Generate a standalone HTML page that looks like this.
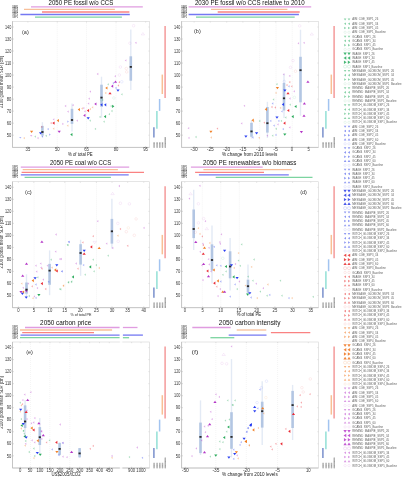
<!DOCTYPE html>
<html><head><meta charset="utf-8"><style>
html,body{margin:0;padding:0;background:#fff;}
body{width:402px;height:477px;overflow:hidden;}
svg{display:block;font-family:"Liberation Sans", sans-serif;will-change:transform;}
text{opacity:0.999;}
</style></head><body>
<svg width="402" height="477" viewBox="0 0 402 477">
<rect width="402" height="477" fill="#fff"/>
<text x="48.60" y="4.75" font-size="6.3" fill="#111" text-anchor="start" textLength="64.70" lengthAdjust="spacingAndGlyphs" >2050 PE fossil w/o CCS</text>
<line x1="31" y1="6.9" x2="142.8" y2="6.9" stroke="#e09ce0" stroke-width="1.3"/>
<line x1="24" y1="9.4" x2="114.9" y2="9.4" stroke="#f8c09a" stroke-width="1.3"/>
<line x1="42" y1="12.0" x2="129.4" y2="12.0" stroke="#fa8282" stroke-width="1.3"/>
<line x1="20.4" y1="14.5" x2="129.8" y2="14.5" stroke="#7478f2" stroke-width="1.3"/>
<line x1="35" y1="17.1" x2="121.9" y2="17.1" stroke="#7cd4a0" stroke-width="1.3"/>
<text x="12.20" y="7.85" font-size="2.8" fill="#222" text-anchor="start" textLength="5.80" lengthAdjust="spacingAndGlyphs" >SSP5</text>
<text x="12.20" y="10.35" font-size="2.8" fill="#222" text-anchor="start" textLength="5.80" lengthAdjust="spacingAndGlyphs" >SSP4</text>
<text x="12.20" y="12.95" font-size="2.8" fill="#222" text-anchor="start" textLength="5.80" lengthAdjust="spacingAndGlyphs" >SSP3</text>
<text x="12.20" y="15.45" font-size="2.8" fill="#222" text-anchor="start" textLength="5.80" lengthAdjust="spacingAndGlyphs" >SSP2</text>
<text x="12.20" y="18.05" font-size="2.8" fill="#222" text-anchor="start" textLength="5.80" lengthAdjust="spacingAndGlyphs" >SSP1</text>
<line x1="57.3" y1="21.4" x2="57.3" y2="147.4" stroke="#e2e2e2" stroke-width="0.45" stroke-dasharray="0.8,1.2"/>
<line x1="86.5" y1="21.4" x2="86.5" y2="147.4" stroke="#e2e2e2" stroke-width="0.45" stroke-dasharray="0.8,1.2"/>
<line x1="116.0" y1="21.4" x2="116.0" y2="147.4" stroke="#e2e2e2" stroke-width="0.45" stroke-dasharray="0.8,1.2"/>
<rect x="12.5" y="21.4" width="137.0" height="126.0" fill="none" stroke="#d4d4d4" stroke-width="0.6"/>
<line x1="12.5" y1="21.4" x2="12.5" y2="147.4" stroke="#bdbdbd" stroke-width="0.8"/>
<line x1="12.5" y1="147.4" x2="149.5" y2="147.4" stroke="#bdbdbd" stroke-width="0.8"/>
<line x1="42.4" y1="122.2" x2="42.4" y2="137.4" stroke="#e3eaf5" stroke-width="1.4"/>
<rect x="41.10" y="125.9" width="2.6" height="9.70" fill="#b3c6e3"/>
<line x1="72.0" y1="103.4" x2="72.0" y2="131.4" stroke="#e3eaf5" stroke-width="1.4"/>
<rect x="70.70" y="108.8" width="2.6" height="15.10" fill="#b3c6e3"/>
<line x1="101.5" y1="76.7" x2="101.5" y2="117.7" stroke="#e3eaf5" stroke-width="1.4"/>
<rect x="100.20" y="84.7" width="2.6" height="22.00" fill="#b3c6e3"/>
<line x1="130.8" y1="29.4" x2="130.8" y2="90.0" stroke="#e3eaf5" stroke-width="1.4"/>
<rect x="129.50" y="56.3" width="2.6" height="24.40" fill="#b3c6e3"/>
<polygon points="19.15,136.91 21.45,136.91 20.30,138.52" fill="#1f35f0" opacity="0.38"/>
<polygon points="24.79,136.95 24.79,139.25 23.18,138.10" fill="#f07a1c" opacity="0.38"/>
<polygon points="30.00,130.64 33.20,130.64 31.60,132.88" fill="#f07a1c" opacity="0.95"/>
<polygon points="30.05,135.11 32.35,135.11 31.20,136.72" fill="#b02cc4" opacity="0.38"/>
<polygon points="35.89,135.45 35.89,137.75 34.28,136.60" fill="#1fa653" opacity="0.38"/>
<polygon points="38.59,136.95 38.59,139.25 36.98,138.10" fill="#b02cc4" opacity="0.38"/>
<polygon points="42.29,125.75 42.29,128.05 40.68,126.90" fill="#e8202a" opacity="0.38"/>
<polygon points="39.00,132.14 42.20,132.14 40.60,134.38" fill="#1f35f0" opacity="0.95"/>
<polygon points="43.09,135.45 43.09,137.75 41.48,136.60" fill="#1f35f0" opacity="0.38"/>
<polygon points="48.69,127.95 48.69,130.25 47.08,129.10" fill="#1f35f0" opacity="0.38"/>
<polygon points="46.79,134.65 46.79,136.95 45.18,135.80" fill="#1fa653" opacity="0.38"/>
<polygon points="49.11,133.45 49.11,135.75 50.72,134.60" fill="#1f35f0" opacity="0.38"/>
<polygon points="54.56,121.50 54.56,124.70 52.32,123.10" fill="#e8202a" opacity="0.95"/>
<polygon points="51.69,121.95 51.69,124.25 50.08,123.10" fill="#e8202a" opacity="0.38"/>
<polygon points="54.29,118.25 54.29,120.55 52.68,119.40" fill="#b02cc4" opacity="0.38"/>
<polygon points="54.29,127.55 54.29,129.85 52.68,128.70" fill="#f07a1c" opacity="0.38"/>
<polygon points="58.96,119.00 58.96,122.20 56.72,120.60" fill="#f07a1c" opacity="0.95"/>
<polygon points="57.60,130.64 60.80,130.64 59.20,132.88" fill="#b02cc4" opacity="0.95"/>
<polygon points="62.31,122.75 62.31,125.05 63.92,123.90" fill="#b02cc4" opacity="0.38"/>
<polygon points="66.19,104.85 66.19,107.15 64.58,106.00" fill="#b02cc4" opacity="0.38"/>
<polygon points="68.69,110.45 68.69,112.75 67.08,111.60" fill="#b02cc4" opacity="0.38"/>
<polygon points="67.31,120.45 67.31,122.75 68.92,121.60" fill="#1f35f0" opacity="0.38"/>
<polygon points="68.39,124.55 68.39,126.85 66.78,125.70" fill="#f07a1c" opacity="0.38"/>
<polygon points="72.46,133.00 72.46,136.20 70.22,134.60" fill="#1fa653" opacity="0.95"/>
<polygon points="73.69,104.05 73.69,106.35 72.08,105.20" fill="#b02cc4" opacity="0.38"/>
<polygon points="77.89,119.55 77.89,121.85 76.28,120.70" fill="#b02cc4" opacity="0.38"/>
<polygon points="79.96,108.00 79.96,111.20 77.72,109.60" fill="#f07a1c" opacity="0.95"/>
<polygon points="82.79,107.35 82.79,109.65 81.18,108.50" fill="#f07a1c" opacity="0.38"/>
<polygon points="84.29,106.95 84.29,109.25 82.68,108.10" fill="#b02cc4" opacity="0.38"/>
<polygon points="85.59,110.15 85.59,112.45 83.98,111.30" fill="#b02cc4" opacity="0.38"/>
<polygon points="85.46,113.80 85.46,117.00 83.22,115.40" fill="#b02cc4" opacity="0.95"/>
<polygon points="89.06,109.00 89.06,112.20 86.82,110.60" fill="#e8202a" opacity="0.95"/>
<polygon points="90.99,107.95 90.99,110.25 89.38,109.10" fill="#f07a1c" opacity="0.38"/>
<polygon points="93.19,106.15 93.19,108.45 91.58,107.30" fill="#f07a1c" opacity="0.38"/>
<polygon points="89.19,102.45 89.19,104.75 87.58,103.60" fill="#b02cc4" opacity="0.38"/>
<polygon points="86.60,117.14 89.80,117.14 88.20,119.38" fill="#1f35f0" opacity="0.95"/>
<polygon points="90.79,119.55 90.79,121.85 89.18,120.70" fill="#1fa653" opacity="0.38"/>
<polygon points="96.09,127.75 96.09,130.05 94.48,128.90" fill="#1fa653" opacity="0.38"/>
<polygon points="96.46,102.40 96.46,105.60 94.22,104.00" fill="#b02cc4" opacity="0.95"/>
<polygon points="89.79,97.55 89.79,99.85 88.18,98.70" fill="#b02cc4" opacity="0.38"/>
<polygon points="90.99,90.45 90.99,92.75 89.38,91.60" fill="#b02cc4" opacity="0.38"/>
<polygon points="98.29,72.85 98.29,75.15 96.68,74.00" fill="#b02cc4" opacity="0.38"/>
<circle cx="101.50" cy="99.90" r="1.3" fill="none" stroke="#1fa653" stroke-width="0.4" opacity="0.2"/>
<polygon points="102.46,103.20 102.46,106.40 100.22,104.80" fill="#1f35f0" opacity="0.95"/>
<polygon points="106.26,103.20 106.26,106.40 104.02,104.80" fill="#1f35f0" opacity="0.95"/>
<polygon points="107.46,86.40 107.46,89.60 105.22,88.00" fill="#f07a1c" opacity="0.95"/>
<polygon points="106.29,91.85 106.29,94.15 104.68,93.00" fill="#f07a1c" opacity="0.38"/>
<polygon points="108.79,83.15 108.79,85.45 107.18,84.30" fill="#1fa653" opacity="0.38"/>
<polygon points="108.40,94.36 111.60,94.36 110.00,92.12" fill="#e8202a" opacity="0.95"/>
<polygon points="113.16,84.60 113.16,87.80 110.92,86.20" fill="#b02cc4" opacity="0.95"/>
<polygon points="113.90,82.76 117.10,82.76 115.50,80.52" fill="#b02cc4" opacity="0.95"/>
<polygon points="114.09,81.95 114.09,84.25 112.48,83.10" fill="#1f35f0" opacity="0.38"/>
<polygon points="116.59,86.85 116.59,89.15 114.98,88.00" fill="#1f35f0" opacity="0.38"/>
<polygon points="119.09,84.35 119.09,86.65 117.48,85.50" fill="#e8202a" opacity="0.38"/>
<polygon points="119.99,81.05 119.99,83.35 118.38,82.20" fill="#e8202a" opacity="0.38"/>
<circle cx="121.80" cy="81.80" r="1.3" fill="none" stroke="#1f35f0" stroke-width="0.4" opacity="0.2"/>
<polygon points="116.40,89.54 119.60,89.54 118.00,91.78" fill="#1f35f0" opacity="0.95"/>
<polygon points="115.89,75.05 115.89,77.35 114.28,76.20" fill="#b02cc4" opacity="0.38"/>
<circle cx="119.30" cy="75.00" r="1.3" fill="none" stroke="#b02cc4" stroke-width="0.4" opacity="0.2"/>
<circle cx="113.90" cy="98.00" r="1.3" fill="none" stroke="#1fa653" stroke-width="0.4" opacity="0.2"/>
<polygon points="122.49,93.15 122.49,95.45 120.88,94.30" fill="#1fa653" opacity="0.38"/>
<polygon points="112.14,104.70 112.14,107.90 114.38,106.30" fill="#1fa653" opacity="0.95"/>
<polygon points="111.69,104.95 111.69,107.25 110.08,106.10" fill="#1fa653" opacity="0.38"/>
<polygon points="112.49,109.85 112.49,112.15 110.88,111.00" fill="#1fa653" opacity="0.38"/>
<polygon points="109.99,113.05 109.99,115.35 108.38,114.20" fill="#1fa653" opacity="0.38"/>
<polygon points="103.19,98.75 103.19,101.05 101.58,99.90" fill="#1fa653" opacity="0.38"/>
<polygon points="100.59,115.75 100.59,118.05 98.98,116.90" fill="#1fa653" opacity="0.38"/>
<polygon points="106.06,115.00 106.06,118.20 103.82,116.60" fill="#1fa653" opacity="0.95"/>
<polygon points="104.69,120.55 104.69,122.85 103.08,121.70" fill="#1fa653" opacity="0.38"/>
<circle cx="126.70" cy="71.90" r="1.3" fill="none" stroke="#e8202a" stroke-width="0.4" opacity="0.2"/>
<circle cx="120.40" cy="67.00" r="1.3" fill="none" stroke="#b02cc4" stroke-width="0.4" opacity="0.2"/>
<polygon points="126.39,59.25 126.39,61.55 124.78,60.40" fill="#b02cc4" opacity="0.38"/>
<circle cx="129.90" cy="43.20" r="1.3" fill="none" stroke="#b02cc4" stroke-width="0.4" opacity="0.2"/>
<polygon points="136.49,41.65 136.49,43.95 134.88,42.80" fill="#b02cc4" opacity="0.38"/>
<circle cx="133.60" cy="25.70" r="1.3" fill="none" stroke="#b02cc4" stroke-width="0.4" opacity="0.2"/>
<polygon points="141.20,34.92 144.60,34.92 142.90,32.54" fill="none" stroke="#b02cc4" stroke-width="0.4" opacity="0.22"/>
<circle cx="126.30" cy="68.50" r="1.3" fill="none" stroke="#e8202a" stroke-width="0.4" opacity="0.2"/>
<rect x="41.30" y="131.10" width="2.2" height="1.8" fill="#2a2a2a"/>
<rect x="70.90" y="119.10" width="2.2" height="1.8" fill="#2a2a2a"/>
<rect x="100.40" y="96.70" width="2.2" height="1.8" fill="#2a2a2a"/>
<rect x="129.70" y="66.00" width="2.2" height="1.8" fill="#2a2a2a"/>
<text x="11.30" y="136.90" font-size="4.7" fill="#383838" text-anchor="end" textLength="4.60" lengthAdjust="spacingAndGlyphs" >50</text>
<line x1="12.5" y1="135.20" x2="13.7" y2="135.20" stroke="#aaa" stroke-width="0.5"/>
<line x1="148.3" y1="135.20" x2="149.5" y2="135.20" stroke="#ccc" stroke-width="0.5"/>
<text x="11.30" y="124.88" font-size="4.7" fill="#383838" text-anchor="end" textLength="4.60" lengthAdjust="spacingAndGlyphs" >60</text>
<line x1="12.5" y1="123.18" x2="13.7" y2="123.18" stroke="#aaa" stroke-width="0.5"/>
<line x1="148.3" y1="123.18" x2="149.5" y2="123.18" stroke="#ccc" stroke-width="0.5"/>
<text x="11.30" y="112.85" font-size="4.7" fill="#383838" text-anchor="end" textLength="4.60" lengthAdjust="spacingAndGlyphs" >70</text>
<line x1="12.5" y1="111.15" x2="13.7" y2="111.15" stroke="#aaa" stroke-width="0.5"/>
<line x1="148.3" y1="111.15" x2="149.5" y2="111.15" stroke="#ccc" stroke-width="0.5"/>
<text x="11.30" y="100.83" font-size="4.7" fill="#383838" text-anchor="end" textLength="4.60" lengthAdjust="spacingAndGlyphs" >80</text>
<line x1="12.5" y1="99.13" x2="13.7" y2="99.13" stroke="#aaa" stroke-width="0.5"/>
<line x1="148.3" y1="99.13" x2="149.5" y2="99.13" stroke="#ccc" stroke-width="0.5"/>
<text x="11.30" y="88.81" font-size="4.7" fill="#383838" text-anchor="end" textLength="4.60" lengthAdjust="spacingAndGlyphs" >90</text>
<line x1="12.5" y1="87.11" x2="13.7" y2="87.11" stroke="#aaa" stroke-width="0.5"/>
<line x1="148.3" y1="87.11" x2="149.5" y2="87.11" stroke="#ccc" stroke-width="0.5"/>
<text x="11.30" y="76.79" font-size="4.7" fill="#383838" text-anchor="end" textLength="6.30" lengthAdjust="spacingAndGlyphs" >100</text>
<line x1="12.5" y1="75.09" x2="13.7" y2="75.09" stroke="#aaa" stroke-width="0.5"/>
<line x1="148.3" y1="75.09" x2="149.5" y2="75.09" stroke="#ccc" stroke-width="0.5"/>
<text x="11.30" y="64.77" font-size="4.7" fill="#383838" text-anchor="end" textLength="6.30" lengthAdjust="spacingAndGlyphs" >110</text>
<line x1="12.5" y1="63.07" x2="13.7" y2="63.07" stroke="#aaa" stroke-width="0.5"/>
<line x1="148.3" y1="63.07" x2="149.5" y2="63.07" stroke="#ccc" stroke-width="0.5"/>
<text x="11.30" y="52.74" font-size="4.7" fill="#383838" text-anchor="end" textLength="6.30" lengthAdjust="spacingAndGlyphs" >120</text>
<line x1="12.5" y1="51.04" x2="13.7" y2="51.04" stroke="#aaa" stroke-width="0.5"/>
<line x1="148.3" y1="51.04" x2="149.5" y2="51.04" stroke="#ccc" stroke-width="0.5"/>
<text x="11.30" y="40.72" font-size="4.7" fill="#383838" text-anchor="end" textLength="6.30" lengthAdjust="spacingAndGlyphs" >130</text>
<line x1="12.5" y1="39.02" x2="13.7" y2="39.02" stroke="#aaa" stroke-width="0.5"/>
<line x1="148.3" y1="39.02" x2="149.5" y2="39.02" stroke="#ccc" stroke-width="0.5"/>
<text x="11.30" y="28.70" font-size="4.7" fill="#383838" text-anchor="end" textLength="6.30" lengthAdjust="spacingAndGlyphs" >140</text>
<line x1="12.5" y1="27.00" x2="13.7" y2="27.00" stroke="#aaa" stroke-width="0.5"/>
<line x1="148.3" y1="27.00" x2="149.5" y2="27.00" stroke="#ccc" stroke-width="0.5"/>
<text x="27.90" y="151.40" font-size="4.6" fill="#383838" text-anchor="middle" textLength="4.70" lengthAdjust="spacingAndGlyphs" >35</text>
<line x1="27.9" y1="147.4" x2="27.9" y2="146.20000000000002" stroke="#aaa" stroke-width="0.5"/>
<line x1="27.9" y1="21.4" x2="27.9" y2="22.599999999999998" stroke="#ccc" stroke-width="0.5"/>
<text x="57.30" y="151.40" font-size="4.6" fill="#383838" text-anchor="middle" textLength="4.70" lengthAdjust="spacingAndGlyphs" >50</text>
<line x1="57.3" y1="147.4" x2="57.3" y2="146.20000000000002" stroke="#aaa" stroke-width="0.5"/>
<line x1="57.3" y1="21.4" x2="57.3" y2="22.599999999999998" stroke="#ccc" stroke-width="0.5"/>
<text x="86.50" y="151.40" font-size="4.6" fill="#383838" text-anchor="middle" textLength="4.70" lengthAdjust="spacingAndGlyphs" >65</text>
<line x1="86.5" y1="147.4" x2="86.5" y2="146.20000000000002" stroke="#aaa" stroke-width="0.5"/>
<line x1="86.5" y1="21.4" x2="86.5" y2="22.599999999999998" stroke="#ccc" stroke-width="0.5"/>
<text x="116.00" y="151.40" font-size="4.6" fill="#383838" text-anchor="middle" textLength="4.70" lengthAdjust="spacingAndGlyphs" >80</text>
<line x1="116" y1="147.4" x2="116" y2="146.20000000000002" stroke="#aaa" stroke-width="0.5"/>
<line x1="116" y1="21.4" x2="116" y2="22.599999999999998" stroke="#ccc" stroke-width="0.5"/>
<text x="145.60" y="151.40" font-size="4.6" fill="#383838" text-anchor="middle" textLength="4.70" lengthAdjust="spacingAndGlyphs" >95</text>
<line x1="145.6" y1="147.4" x2="145.6" y2="146.20000000000002" stroke="#aaa" stroke-width="0.5"/>
<line x1="145.6" y1="21.4" x2="145.6" y2="22.599999999999998" stroke="#ccc" stroke-width="0.5"/>
<text x="68.00" y="156.00" font-size="5.0" fill="#222" text-anchor="start" textLength="24.70" lengthAdjust="spacingAndGlyphs" >% of total PE</text>
<text x="0" y="0" font-size="47" fill="#333" text-anchor="middle" textLength="524" lengthAdjust="spacingAndGlyphs" transform="translate(3.3,81.90) rotate(-90) scale(0.1)">2100 global mean SLR [cm]</text>
<text x="22.00" y="33.50" font-size="5.0" fill="#333" text-anchor="start" textLength="6.80" lengthAdjust="spacingAndGlyphs" >(a)</text>
<line x1="153.90" y1="127.3" x2="153.90" y2="137.5" stroke="#7a90cc" stroke-width="1.5"/>
<line x1="156.90" y1="111.0" x2="156.90" y2="128.7" stroke="#92e0d6" stroke-width="1.5"/>
<line x1="159.60" y1="99.0" x2="159.60" y2="110.9" stroke="#a2c4f0" stroke-width="1.5"/>
<line x1="162.30" y1="74.6" x2="162.30" y2="94.0" stroke="#f8bf95" stroke-width="1.5"/>
<line x1="165.10" y1="26.0" x2="165.10" y2="98.0" stroke="#f49a9a" stroke-width="1.5"/>
<rect x="153.40" y="142.20" width="1.4" height="5.50" fill="#999"/>
<rect x="153.40" y="142.65" width="1.4" height="0.4" fill="#fff" opacity="0.6"/>
<rect x="153.40" y="143.95" width="1.4" height="0.4" fill="#fff" opacity="0.6"/>
<rect x="153.40" y="145.25" width="1.4" height="0.4" fill="#fff" opacity="0.6"/>
<rect x="153.40" y="146.55" width="1.4" height="0.4" fill="#fff" opacity="0.6"/>
<rect x="156.40" y="142.20" width="1.4" height="5.50" fill="#999"/>
<rect x="156.40" y="142.65" width="1.4" height="0.4" fill="#fff" opacity="0.6"/>
<rect x="156.40" y="143.95" width="1.4" height="0.4" fill="#fff" opacity="0.6"/>
<rect x="156.40" y="145.25" width="1.4" height="0.4" fill="#fff" opacity="0.6"/>
<rect x="156.40" y="146.55" width="1.4" height="0.4" fill="#fff" opacity="0.6"/>
<rect x="159.10" y="142.20" width="1.4" height="5.50" fill="#999"/>
<rect x="159.10" y="142.65" width="1.4" height="0.4" fill="#fff" opacity="0.6"/>
<rect x="159.10" y="143.95" width="1.4" height="0.4" fill="#fff" opacity="0.6"/>
<rect x="159.10" y="145.25" width="1.4" height="0.4" fill="#fff" opacity="0.6"/>
<rect x="159.10" y="146.55" width="1.4" height="0.4" fill="#fff" opacity="0.6"/>
<rect x="161.80" y="142.20" width="1.4" height="5.50" fill="#999"/>
<rect x="161.80" y="142.65" width="1.4" height="0.4" fill="#fff" opacity="0.6"/>
<rect x="161.80" y="143.95" width="1.4" height="0.4" fill="#fff" opacity="0.6"/>
<rect x="161.80" y="145.25" width="1.4" height="0.4" fill="#fff" opacity="0.6"/>
<rect x="161.80" y="146.55" width="1.4" height="0.4" fill="#fff" opacity="0.6"/>
<rect x="164.60" y="137.00" width="1.4" height="10.70" fill="#999"/>
<rect x="164.60" y="137.45" width="1.4" height="0.4" fill="#fff" opacity="0.6"/>
<rect x="164.60" y="138.75" width="1.4" height="0.4" fill="#fff" opacity="0.6"/>
<rect x="164.60" y="140.05" width="1.4" height="0.4" fill="#fff" opacity="0.6"/>
<rect x="164.60" y="141.35" width="1.4" height="0.4" fill="#fff" opacity="0.6"/>
<rect x="164.60" y="142.65" width="1.4" height="0.4" fill="#fff" opacity="0.6"/>
<rect x="164.60" y="143.95" width="1.4" height="0.4" fill="#fff" opacity="0.6"/>
<rect x="164.60" y="145.25" width="1.4" height="0.4" fill="#fff" opacity="0.6"/>
<rect x="164.60" y="146.55" width="1.4" height="0.4" fill="#fff" opacity="0.6"/>
<text x="194.90" y="4.75" font-size="6.3" fill="#111" text-anchor="start" textLength="109.80" lengthAdjust="spacingAndGlyphs" >2030 PE fossil w/o CCS relative to 2010</text>
<line x1="188.6" y1="6.9" x2="311.2" y2="6.9" stroke="#e09ce0" stroke-width="1.3"/>
<line x1="211" y1="9.4" x2="287.4" y2="9.4" stroke="#f8c09a" stroke-width="1.3"/>
<line x1="217.7" y1="12.0" x2="299.7" y2="12.0" stroke="#fa8282" stroke-width="1.3"/>
<line x1="188.6" y1="14.5" x2="298.9" y2="14.5" stroke="#7478f2" stroke-width="1.3"/>
<line x1="196" y1="17.1" x2="294.7" y2="17.1" stroke="#7cd4a0" stroke-width="1.3"/>
<text x="181.30" y="7.85" font-size="2.8" fill="#222" text-anchor="start" textLength="5.80" lengthAdjust="spacingAndGlyphs" >SSP5</text>
<text x="181.30" y="10.35" font-size="2.8" fill="#222" text-anchor="start" textLength="5.80" lengthAdjust="spacingAndGlyphs" >SSP4</text>
<text x="181.30" y="12.95" font-size="2.8" fill="#222" text-anchor="start" textLength="5.80" lengthAdjust="spacingAndGlyphs" >SSP3</text>
<text x="181.30" y="15.45" font-size="2.8" fill="#222" text-anchor="start" textLength="5.80" lengthAdjust="spacingAndGlyphs" >SSP2</text>
<text x="181.30" y="18.05" font-size="2.8" fill="#222" text-anchor="start" textLength="5.80" lengthAdjust="spacingAndGlyphs" >SSP1</text>
<line x1="259.6" y1="21.4" x2="259.6" y2="147.4" stroke="#e2e2e2" stroke-width="0.45" stroke-dasharray="0.8,1.2"/>
<line x1="276.0" y1="21.4" x2="276.0" y2="147.4" stroke="#e2e2e2" stroke-width="0.45" stroke-dasharray="0.8,1.2"/>
<line x1="292.2" y1="21.4" x2="292.2" y2="147.4" stroke="#e2e2e2" stroke-width="0.45" stroke-dasharray="0.8,1.2"/>
<rect x="181.6" y="21.4" width="136.9" height="126.0" fill="none" stroke="#d4d4d4" stroke-width="0.6"/>
<line x1="181.6" y1="21.4" x2="181.6" y2="147.4" stroke="#bdbdbd" stroke-width="0.8"/>
<line x1="181.6" y1="147.4" x2="318.5" y2="147.4" stroke="#bdbdbd" stroke-width="0.8"/>
<line x1="251.5" y1="120.0" x2="251.5" y2="138.5" stroke="#e3eaf5" stroke-width="1.4"/>
<rect x="250.20" y="122.8" width="2.6" height="14.00" fill="#b3c6e3"/>
<line x1="267.4" y1="101.8" x2="267.4" y2="138.0" stroke="#e3eaf5" stroke-width="1.4"/>
<rect x="266.10" y="107.0" width="2.6" height="25.60" fill="#b3c6e3"/>
<line x1="284.0" y1="73.7" x2="284.0" y2="118.0" stroke="#e3eaf5" stroke-width="1.4"/>
<rect x="282.70" y="83.0" width="2.6" height="27.50" fill="#b3c6e3"/>
<line x1="300.5" y1="29.7" x2="300.5" y2="115.7" stroke="#e3eaf5" stroke-width="1.4"/>
<rect x="299.20" y="56.8" width="2.6" height="45.50" fill="#b3c6e3"/>
<polygon points="189.19,127.05 189.19,129.35 187.58,128.20" fill="#b02cc4" opacity="0.38"/>
<polygon points="189.49,136.75 189.49,139.05 187.88,137.90" fill="#b02cc4" opacity="0.38"/>
<polygon points="196.59,135.85 196.59,138.15 194.98,137.00" fill="#1fa653" opacity="0.38"/>
<polygon points="209.30,130.84 212.50,130.84 210.90,133.08" fill="#f07a1c" opacity="0.95"/>
<polygon points="211.89,136.35 211.89,138.65 210.28,137.50" fill="#f07a1c" opacity="0.38"/>
<polygon points="218.09,127.45 218.09,129.75 216.48,128.60" fill="#e8202a" opacity="0.38"/>
<polygon points="245.09,104.65 245.09,106.95 243.48,105.80" fill="#b02cc4" opacity="0.38"/>
<polygon points="242.29,122.25 242.29,124.55 240.68,123.40" fill="#b02cc4" opacity="0.38"/>
<polygon points="244.30,135.44 247.50,135.44 245.90,137.68" fill="#1f35f0" opacity="0.95"/>
<polygon points="253.49,136.35 253.49,138.65 251.88,137.50" fill="#1f35f0" opacity="0.38"/>
<polygon points="253.76,118.60 253.76,121.80 251.52,120.20" fill="#f07a1c" opacity="0.95"/>
<polygon points="254.19,120.35 254.19,122.65 252.58,121.50" fill="#f07a1c" opacity="0.38"/>
<polygon points="260.29,119.85 260.29,122.15 258.68,121.00" fill="#1fa653" opacity="0.38"/>
<polygon points="264.99,121.55 264.99,123.85 263.38,122.70" fill="#e8202a" opacity="0.38"/>
<polygon points="271.29,119.75 271.29,122.05 269.68,120.90" fill="#1f35f0" opacity="0.38"/>
<polygon points="278.59,123.25 278.59,125.55 276.98,124.40" fill="#b02cc4" opacity="0.38"/>
<polygon points="274.69,124.45 274.69,126.75 273.08,125.60" fill="#1f35f0" opacity="0.38"/>
<polygon points="276.79,127.65 276.79,129.95 275.18,128.80" fill="#1fa653" opacity="0.38"/>
<polygon points="290.39,126.25 290.39,128.55 288.78,127.40" fill="#b02cc4" opacity="0.38"/>
<polygon points="283.79,127.95 283.79,130.25 282.18,129.10" fill="#1f35f0" opacity="0.38"/>
<polygon points="299.80,130.94 303.00,130.94 301.40,133.18" fill="#b02cc4" opacity="0.95"/>
<polygon points="283.20,133.44 286.40,133.44 284.80,135.68" fill="#1fa653" opacity="0.95"/>
<polygon points="273.29,134.55 273.29,136.85 271.68,135.70" fill="#1fa653" opacity="0.38"/>
<polygon points="276.49,133.75 276.49,136.05 274.88,134.90" fill="#1f35f0" opacity="0.38"/>
<polygon points="268.09,134.55 268.09,136.85 266.48,135.70" fill="#b02cc4" opacity="0.38"/>
<polygon points="255.00,132.14 258.20,132.14 256.60,134.38" fill="#1f35f0" opacity="0.95"/>
<polygon points="259.79,136.65 259.79,138.95 258.18,137.80" fill="#f07a1c" opacity="0.38"/>
<polygon points="266.96,107.70 266.96,110.90 264.72,109.30" fill="#f07a1c" opacity="0.95"/>
<polygon points="274.19,98.35 274.19,100.65 272.58,99.50" fill="#1fa653" opacity="0.38"/>
<polygon points="273.29,102.35 273.29,104.65 271.68,103.50" fill="#1f35f0" opacity="0.38"/>
<polygon points="284.06,102.80 284.06,106.00 281.82,104.40" fill="#1f35f0" opacity="0.95"/>
<polygon points="296.56,104.90 296.56,108.10 294.32,106.50" fill="#1fa653" opacity="0.95"/>
<polygon points="302.80,104.46 306.00,104.46 304.40,102.22" fill="#b02cc4" opacity="0.95"/>
<polygon points="272.49,105.85 272.49,108.15 270.88,107.00" fill="#e8202a" opacity="0.38"/>
<polygon points="281.19,106.75 281.19,109.05 279.58,107.90" fill="#f07a1c" opacity="0.38"/>
<polygon points="289.26,108.90 289.26,112.10 287.02,110.50" fill="#e8202a" opacity="0.95"/>
<polygon points="290.79,103.55 290.79,105.85 289.18,104.70" fill="#1fa653" opacity="0.38"/>
<polygon points="275.99,106.35 275.99,108.65 274.38,107.50" fill="#e8202a" opacity="0.38"/>
<polygon points="282.59,110.25 282.59,112.55 280.98,111.40" fill="#1f35f0" opacity="0.38"/>
<polygon points="293.66,115.00 293.66,118.20 291.42,116.60" fill="#1fa653" opacity="0.95"/>
<polygon points="302.40,116.66 305.60,116.66 304.00,114.42" fill="#b02cc4" opacity="0.95"/>
<polygon points="275.40,116.54 278.60,116.54 277.00,118.78" fill="#1f35f0" opacity="0.95"/>
<polygon points="286.39,116.35 286.39,118.65 284.78,117.50" fill="#1fa653" opacity="0.38"/>
<polygon points="279.39,119.75 279.39,122.05 277.78,120.90" fill="#1f35f0" opacity="0.38"/>
<polygon points="282.09,119.75 282.09,122.05 280.48,120.90" fill="#1fa653" opacity="0.38"/>
<polygon points="285.46,121.60 285.46,124.80 283.22,123.20" fill="#e8202a" opacity="0.95"/>
<polygon points="306.30,82.66 309.50,82.66 307.90,80.42" fill="#b02cc4" opacity="0.95"/>
<polygon points="275.80,87.04 279.00,87.04 277.40,89.28" fill="#f07a1c" opacity="0.95"/>
<polygon points="276.59,91.75 276.59,94.05 274.98,92.90" fill="#f07a1c" opacity="0.38"/>
<polygon points="277.49,83.05 277.49,85.35 275.88,84.20" fill="#1fa653" opacity="0.38"/>
<circle cx="284.30" cy="81.40" r="1.3" fill="none" stroke="#1f35f0" stroke-width="0.4" opacity="0.2"/>
<polygon points="290.29,80.95 290.29,83.25 288.68,82.10" fill="#e8202a" opacity="0.38"/>
<polygon points="287.49,83.95 287.49,86.25 285.88,85.10" fill="#e8202a" opacity="0.38"/>
<polygon points="292.39,85.15 292.39,87.45 290.78,86.30" fill="#e8202a" opacity="0.38"/>
<polygon points="289.59,85.15 289.59,87.45 287.98,86.30" fill="#1f35f0" opacity="0.38"/>
<polygon points="283.30,89.44 286.50,89.44 284.90,91.68" fill="#1f35f0" opacity="0.95"/>
<polygon points="286.40,94.26 289.60,94.26 288.00,92.02" fill="#e8202a" opacity="0.95"/>
<polygon points="294.89,90.15 294.89,92.45 293.28,91.30" fill="#b02cc4" opacity="0.38"/>
<circle cx="294.40" cy="97.40" r="1.3" fill="none" stroke="#1fa653" stroke-width="0.4" opacity="0.2"/>
<polygon points="290.59,97.35 290.59,99.65 288.98,98.50" fill="#b02cc4" opacity="0.38"/>
<polygon points="284.39,73.15 284.39,75.45 282.78,74.30" fill="#b02cc4" opacity="0.38"/>
<polygon points="290.29,74.75 290.29,77.05 288.68,75.90" fill="#b02cc4" opacity="0.38"/>
<circle cx="293.00" cy="60.60" r="1.3" fill="none" stroke="#b02cc4" stroke-width="0.4" opacity="0.2"/>
<circle cx="295.50" cy="71.20" r="1.3" fill="none" stroke="#e8202a" stroke-width="0.4" opacity="0.2"/>
<circle cx="290.50" cy="67.40" r="1.3" fill="none" stroke="#b02cc4" stroke-width="0.4" opacity="0.2"/>
<circle cx="299.70" cy="25.90" r="1.3" fill="none" stroke="#b02cc4" stroke-width="0.4" opacity="0.2"/>
<polygon points="310.10,35.12 313.50,35.12 311.80,32.74" fill="none" stroke="#b02cc4" stroke-width="0.4" opacity="0.22"/>
<polygon points="299.09,42.15 299.09,44.45 297.48,43.30" fill="#b02cc4" opacity="0.38"/>
<polygon points="304.69,41.65 304.69,43.95 303.08,42.80" fill="#b02cc4" opacity="0.38"/>
<rect x="250.40" y="130.50" width="2.2" height="1.8" fill="#2a2a2a"/>
<rect x="266.30" y="122.30" width="2.2" height="1.8" fill="#2a2a2a"/>
<rect x="282.90" y="97.40" width="2.2" height="1.8" fill="#2a2a2a"/>
<rect x="299.40" y="69.30" width="2.2" height="1.8" fill="#2a2a2a"/>
<text x="180.40" y="136.90" font-size="4.7" fill="#383838" text-anchor="end" textLength="4.60" lengthAdjust="spacingAndGlyphs" >50</text>
<line x1="181.6" y1="135.20" x2="182.79999999999998" y2="135.20" stroke="#aaa" stroke-width="0.5"/>
<line x1="317.3" y1="135.20" x2="318.5" y2="135.20" stroke="#ccc" stroke-width="0.5"/>
<text x="180.40" y="124.88" font-size="4.7" fill="#383838" text-anchor="end" textLength="4.60" lengthAdjust="spacingAndGlyphs" >60</text>
<line x1="181.6" y1="123.18" x2="182.79999999999998" y2="123.18" stroke="#aaa" stroke-width="0.5"/>
<line x1="317.3" y1="123.18" x2="318.5" y2="123.18" stroke="#ccc" stroke-width="0.5"/>
<text x="180.40" y="112.85" font-size="4.7" fill="#383838" text-anchor="end" textLength="4.60" lengthAdjust="spacingAndGlyphs" >70</text>
<line x1="181.6" y1="111.15" x2="182.79999999999998" y2="111.15" stroke="#aaa" stroke-width="0.5"/>
<line x1="317.3" y1="111.15" x2="318.5" y2="111.15" stroke="#ccc" stroke-width="0.5"/>
<text x="180.40" y="100.83" font-size="4.7" fill="#383838" text-anchor="end" textLength="4.60" lengthAdjust="spacingAndGlyphs" >80</text>
<line x1="181.6" y1="99.13" x2="182.79999999999998" y2="99.13" stroke="#aaa" stroke-width="0.5"/>
<line x1="317.3" y1="99.13" x2="318.5" y2="99.13" stroke="#ccc" stroke-width="0.5"/>
<text x="180.40" y="88.81" font-size="4.7" fill="#383838" text-anchor="end" textLength="4.60" lengthAdjust="spacingAndGlyphs" >90</text>
<line x1="181.6" y1="87.11" x2="182.79999999999998" y2="87.11" stroke="#aaa" stroke-width="0.5"/>
<line x1="317.3" y1="87.11" x2="318.5" y2="87.11" stroke="#ccc" stroke-width="0.5"/>
<text x="180.40" y="76.79" font-size="4.7" fill="#383838" text-anchor="end" textLength="6.30" lengthAdjust="spacingAndGlyphs" >100</text>
<line x1="181.6" y1="75.09" x2="182.79999999999998" y2="75.09" stroke="#aaa" stroke-width="0.5"/>
<line x1="317.3" y1="75.09" x2="318.5" y2="75.09" stroke="#ccc" stroke-width="0.5"/>
<text x="180.40" y="64.77" font-size="4.7" fill="#383838" text-anchor="end" textLength="6.30" lengthAdjust="spacingAndGlyphs" >110</text>
<line x1="181.6" y1="63.07" x2="182.79999999999998" y2="63.07" stroke="#aaa" stroke-width="0.5"/>
<line x1="317.3" y1="63.07" x2="318.5" y2="63.07" stroke="#ccc" stroke-width="0.5"/>
<text x="180.40" y="52.74" font-size="4.7" fill="#383838" text-anchor="end" textLength="6.30" lengthAdjust="spacingAndGlyphs" >120</text>
<line x1="181.6" y1="51.04" x2="182.79999999999998" y2="51.04" stroke="#aaa" stroke-width="0.5"/>
<line x1="317.3" y1="51.04" x2="318.5" y2="51.04" stroke="#ccc" stroke-width="0.5"/>
<text x="180.40" y="40.72" font-size="4.7" fill="#383838" text-anchor="end" textLength="6.30" lengthAdjust="spacingAndGlyphs" >130</text>
<line x1="181.6" y1="39.02" x2="182.79999999999998" y2="39.02" stroke="#aaa" stroke-width="0.5"/>
<line x1="317.3" y1="39.02" x2="318.5" y2="39.02" stroke="#ccc" stroke-width="0.5"/>
<text x="180.40" y="28.70" font-size="4.7" fill="#383838" text-anchor="end" textLength="6.30" lengthAdjust="spacingAndGlyphs" >140</text>
<line x1="181.6" y1="27.00" x2="182.79999999999998" y2="27.00" stroke="#aaa" stroke-width="0.5"/>
<line x1="317.3" y1="27.00" x2="318.5" y2="27.00" stroke="#ccc" stroke-width="0.5"/>
<text x="194.10" y="151.40" font-size="4.6" fill="#383838" text-anchor="middle" textLength="7.05" lengthAdjust="spacingAndGlyphs" >-30</text>
<line x1="194.1" y1="147.4" x2="194.1" y2="146.20000000000002" stroke="#aaa" stroke-width="0.5"/>
<line x1="194.1" y1="21.4" x2="194.1" y2="22.599999999999998" stroke="#ccc" stroke-width="0.5"/>
<text x="210.30" y="151.40" font-size="4.6" fill="#383838" text-anchor="middle" textLength="7.05" lengthAdjust="spacingAndGlyphs" >-25</text>
<line x1="210.3" y1="147.4" x2="210.3" y2="146.20000000000002" stroke="#aaa" stroke-width="0.5"/>
<line x1="210.3" y1="21.4" x2="210.3" y2="22.599999999999998" stroke="#ccc" stroke-width="0.5"/>
<text x="226.70" y="151.40" font-size="4.6" fill="#383838" text-anchor="middle" textLength="7.05" lengthAdjust="spacingAndGlyphs" >-20</text>
<line x1="226.7" y1="147.4" x2="226.7" y2="146.20000000000002" stroke="#aaa" stroke-width="0.5"/>
<line x1="226.7" y1="21.4" x2="226.7" y2="22.599999999999998" stroke="#ccc" stroke-width="0.5"/>
<text x="242.90" y="151.40" font-size="4.6" fill="#383838" text-anchor="middle" textLength="7.05" lengthAdjust="spacingAndGlyphs" >-15</text>
<line x1="242.9" y1="147.4" x2="242.9" y2="146.20000000000002" stroke="#aaa" stroke-width="0.5"/>
<line x1="242.9" y1="21.4" x2="242.9" y2="22.599999999999998" stroke="#ccc" stroke-width="0.5"/>
<text x="259.60" y="151.40" font-size="4.6" fill="#383838" text-anchor="middle" textLength="7.05" lengthAdjust="spacingAndGlyphs" >-10</text>
<line x1="259.6" y1="147.4" x2="259.6" y2="146.20000000000002" stroke="#aaa" stroke-width="0.5"/>
<line x1="259.6" y1="21.4" x2="259.6" y2="22.599999999999998" stroke="#ccc" stroke-width="0.5"/>
<text x="275.70" y="151.40" font-size="4.6" fill="#383838" text-anchor="middle" textLength="4.70" lengthAdjust="spacingAndGlyphs" >-5</text>
<line x1="275.7" y1="147.4" x2="275.7" y2="146.20000000000002" stroke="#aaa" stroke-width="0.5"/>
<line x1="275.7" y1="21.4" x2="275.7" y2="22.599999999999998" stroke="#ccc" stroke-width="0.5"/>
<text x="292.00" y="151.40" font-size="4.6" fill="#383838" text-anchor="middle" textLength="2.35" lengthAdjust="spacingAndGlyphs" >0</text>
<line x1="292" y1="147.4" x2="292" y2="146.20000000000002" stroke="#aaa" stroke-width="0.5"/>
<line x1="292" y1="21.4" x2="292" y2="22.599999999999998" stroke="#ccc" stroke-width="0.5"/>
<text x="308.70" y="151.40" font-size="4.6" fill="#383838" text-anchor="middle" textLength="2.35" lengthAdjust="spacingAndGlyphs" >5</text>
<line x1="308.7" y1="147.4" x2="308.7" y2="146.20000000000002" stroke="#aaa" stroke-width="0.5"/>
<line x1="308.7" y1="21.4" x2="308.7" y2="22.599999999999998" stroke="#ccc" stroke-width="0.5"/>
<text x="222.00" y="156.20" font-size="5.0" fill="#222" text-anchor="start" textLength="55.20" lengthAdjust="spacingAndGlyphs" >% change from 2010 levels</text>
<text x="194.00" y="33.00" font-size="5.0" fill="#333" text-anchor="start" textLength="6.80" lengthAdjust="spacingAndGlyphs" >(b)</text>
<line x1="322.90" y1="127.3" x2="322.90" y2="137.5" stroke="#7a90cc" stroke-width="1.5"/>
<line x1="325.90" y1="111.0" x2="325.90" y2="128.7" stroke="#92e0d6" stroke-width="1.5"/>
<line x1="328.60" y1="99.0" x2="328.60" y2="110.9" stroke="#a2c4f0" stroke-width="1.5"/>
<line x1="331.30" y1="74.6" x2="331.30" y2="94.0" stroke="#f8bf95" stroke-width="1.5"/>
<line x1="334.10" y1="26.0" x2="334.10" y2="98.0" stroke="#f49a9a" stroke-width="1.5"/>
<rect x="322.40" y="142.20" width="1.4" height="5.50" fill="#999"/>
<rect x="322.40" y="142.65" width="1.4" height="0.4" fill="#fff" opacity="0.6"/>
<rect x="322.40" y="143.95" width="1.4" height="0.4" fill="#fff" opacity="0.6"/>
<rect x="322.40" y="145.25" width="1.4" height="0.4" fill="#fff" opacity="0.6"/>
<rect x="322.40" y="146.55" width="1.4" height="0.4" fill="#fff" opacity="0.6"/>
<rect x="325.40" y="142.20" width="1.4" height="5.50" fill="#999"/>
<rect x="325.40" y="142.65" width="1.4" height="0.4" fill="#fff" opacity="0.6"/>
<rect x="325.40" y="143.95" width="1.4" height="0.4" fill="#fff" opacity="0.6"/>
<rect x="325.40" y="145.25" width="1.4" height="0.4" fill="#fff" opacity="0.6"/>
<rect x="325.40" y="146.55" width="1.4" height="0.4" fill="#fff" opacity="0.6"/>
<rect x="328.10" y="142.20" width="1.4" height="5.50" fill="#999"/>
<rect x="328.10" y="142.65" width="1.4" height="0.4" fill="#fff" opacity="0.6"/>
<rect x="328.10" y="143.95" width="1.4" height="0.4" fill="#fff" opacity="0.6"/>
<rect x="328.10" y="145.25" width="1.4" height="0.4" fill="#fff" opacity="0.6"/>
<rect x="328.10" y="146.55" width="1.4" height="0.4" fill="#fff" opacity="0.6"/>
<rect x="330.80" y="142.20" width="1.4" height="5.50" fill="#999"/>
<rect x="330.80" y="142.65" width="1.4" height="0.4" fill="#fff" opacity="0.6"/>
<rect x="330.80" y="143.95" width="1.4" height="0.4" fill="#fff" opacity="0.6"/>
<rect x="330.80" y="145.25" width="1.4" height="0.4" fill="#fff" opacity="0.6"/>
<rect x="330.80" y="146.55" width="1.4" height="0.4" fill="#fff" opacity="0.6"/>
<rect x="333.60" y="137.00" width="1.4" height="10.70" fill="#999"/>
<rect x="333.60" y="137.45" width="1.4" height="0.4" fill="#fff" opacity="0.6"/>
<rect x="333.60" y="138.75" width="1.4" height="0.4" fill="#fff" opacity="0.6"/>
<rect x="333.60" y="140.05" width="1.4" height="0.4" fill="#fff" opacity="0.6"/>
<rect x="333.60" y="141.35" width="1.4" height="0.4" fill="#fff" opacity="0.6"/>
<rect x="333.60" y="142.65" width="1.4" height="0.4" fill="#fff" opacity="0.6"/>
<rect x="333.60" y="143.95" width="1.4" height="0.4" fill="#fff" opacity="0.6"/>
<rect x="333.60" y="145.25" width="1.4" height="0.4" fill="#fff" opacity="0.6"/>
<rect x="333.60" y="146.55" width="1.4" height="0.4" fill="#fff" opacity="0.6"/>
<text x="50.00" y="165.05" font-size="6.3" fill="#111" text-anchor="start" textLength="61.20" lengthAdjust="spacingAndGlyphs" >2050 PE coal w/o CCS</text>
<line x1="20.8" y1="167.20000000000002" x2="129.2" y2="167.20000000000002" stroke="#e09ce0" stroke-width="1.3"/>
<line x1="22.7" y1="169.70000000000002" x2="117.9" y2="169.70000000000002" stroke="#f8c09a" stroke-width="1.3"/>
<line x1="21.6" y1="172.3" x2="144" y2="172.3" stroke="#fa8282" stroke-width="1.3"/>
<line x1="20.8" y1="174.8" x2="128.7" y2="174.8" stroke="#7478f2" stroke-width="1.3"/>
<line x1="24.6" y1="177.4" x2="110.9" y2="177.4" stroke="#7cd4a0" stroke-width="1.3"/>
<text x="12.20" y="168.15" font-size="2.8" fill="#222" text-anchor="start" textLength="5.80" lengthAdjust="spacingAndGlyphs" >SSP5</text>
<text x="12.20" y="170.65" font-size="2.8" fill="#222" text-anchor="start" textLength="5.80" lengthAdjust="spacingAndGlyphs" >SSP4</text>
<text x="12.20" y="173.25" font-size="2.8" fill="#222" text-anchor="start" textLength="5.80" lengthAdjust="spacingAndGlyphs" >SSP3</text>
<text x="12.20" y="175.75" font-size="2.8" fill="#222" text-anchor="start" textLength="5.80" lengthAdjust="spacingAndGlyphs" >SSP2</text>
<text x="12.20" y="178.35" font-size="2.8" fill="#222" text-anchor="start" textLength="5.80" lengthAdjust="spacingAndGlyphs" >SSP1</text>
<line x1="34.2" y1="181.70000000000002" x2="34.2" y2="307.70000000000005" stroke="#e2e2e2" stroke-width="0.45" stroke-dasharray="0.8,1.2"/>
<line x1="65.4" y1="181.70000000000002" x2="65.4" y2="307.70000000000005" stroke="#e2e2e2" stroke-width="0.45" stroke-dasharray="0.8,1.2"/>
<line x1="96.5" y1="181.70000000000002" x2="96.5" y2="307.70000000000005" stroke="#e2e2e2" stroke-width="0.45" stroke-dasharray="0.8,1.2"/>
<rect x="12.5" y="181.70000000000002" width="137.0" height="126.00000000000003" fill="none" stroke="#d4d4d4" stroke-width="0.6"/>
<line x1="12.5" y1="181.70000000000002" x2="12.5" y2="307.70000000000005" stroke="#bdbdbd" stroke-width="0.8"/>
<line x1="12.5" y1="307.70000000000005" x2="149.5" y2="307.70000000000005" stroke="#bdbdbd" stroke-width="0.8"/>
<line x1="26.5" y1="274.3" x2="26.5" y2="298.0" stroke="#e3eaf5" stroke-width="1.4"/>
<rect x="25.20" y="282.5" width="2.6" height="11.20" fill="#b3c6e3"/>
<line x1="49.6" y1="250.4" x2="49.6" y2="295.2" stroke="#e3eaf5" stroke-width="1.4"/>
<rect x="48.30" y="263.9" width="2.6" height="20.90" fill="#b3c6e3"/>
<line x1="80.6" y1="239.8" x2="80.6" y2="275.8" stroke="#e3eaf5" stroke-width="1.4"/>
<rect x="79.30" y="244.2" width="2.6" height="20.40" fill="#b3c6e3"/>
<line x1="111.9" y1="198.8" x2="111.9" y2="248.5" stroke="#e3eaf5" stroke-width="1.4"/>
<rect x="110.60" y="218.9" width="2.6" height="24.70" fill="#b3c6e3"/>
<polygon points="40.30,242.76 43.50,242.76 41.90,240.52" fill="#b02cc4" opacity="0.95"/>
<polygon points="69.39,240.65 69.39,242.95 67.78,241.80" fill="#1f35f0" opacity="0.38"/>
<polygon points="68.19,243.65 68.19,245.95 66.58,244.80" fill="#1fa653" opacity="0.38"/>
<polygon points="56.29,250.45 56.29,252.75 54.68,251.60" fill="#b02cc4" opacity="0.38"/>
<polygon points="60.49,257.95 60.49,260.25 58.88,259.10" fill="#b02cc4" opacity="0.38"/>
<polygon points="51.79,258.55 51.79,260.85 50.18,259.70" fill="#1fa653" opacity="0.38"/>
<polygon points="24.90,264.86 28.10,264.86 26.50,262.62" fill="#b02cc4" opacity="0.95"/>
<polygon points="41.39,262.45 41.39,264.75 39.78,263.60" fill="#b02cc4" opacity="0.38"/>
<polygon points="36.59,264.55 36.59,266.85 34.98,265.70" fill="#b02cc4" opacity="0.38"/>
<polygon points="48.19,264.55 48.19,266.85 46.58,265.70" fill="#b02cc4" opacity="0.38"/>
<polygon points="55.20,264.14 58.40,264.14 56.80,266.38" fill="#1f35f0" opacity="0.95"/>
<polygon points="42.59,267.55 42.59,269.85 40.98,268.70" fill="#e8202a" opacity="0.38"/>
<polygon points="41.79,266.45 41.79,268.75 40.18,267.60" fill="#b02cc4" opacity="0.38"/>
<polygon points="52.69,266.45 52.69,268.75 51.08,267.60" fill="#f07a1c" opacity="0.38"/>
<polygon points="56.26,268.30 56.26,271.50 54.02,269.90" fill="#f07a1c" opacity="0.95"/>
<polygon points="57.76,269.40 57.76,272.60 55.52,271.00" fill="#e8202a" opacity="0.95"/>
<polygon points="62.69,270.15 62.69,272.45 61.08,271.30" fill="#1f35f0" opacity="0.38"/>
<polygon points="37.29,270.45 37.29,272.75 35.68,271.60" fill="#b02cc4" opacity="0.38"/>
<polygon points="21.10,276.76 24.30,276.76 22.70,274.52" fill="#b02cc4" opacity="0.95"/>
<polygon points="33.50,277.14 36.70,277.14 35.10,279.38" fill="#1f35f0" opacity="0.95"/>
<polygon points="38.39,276.15 38.39,278.45 36.78,277.30" fill="#1fa653" opacity="0.38"/>
<polygon points="33.86,279.00 33.86,282.20 31.62,280.60" fill="#f07a1c" opacity="0.95"/>
<polygon points="43.99,278.45 43.99,280.75 42.38,279.60" fill="#b02cc4" opacity="0.38"/>
<polygon points="42.86,282.00 42.86,285.20 40.62,283.60" fill="#e8202a" opacity="0.95"/>
<polygon points="36.59,283.35 36.59,285.65 34.98,284.50" fill="#1f35f0" opacity="0.38"/>
<polygon points="49.29,280.65 49.29,282.95 47.68,281.80" fill="#1f35f0" opacity="0.38"/>
<polygon points="22.39,282.45 22.39,284.75 20.78,283.60" fill="#f07a1c" opacity="0.38"/>
<polygon points="29.09,282.45 29.09,284.75 27.48,283.60" fill="#b02cc4" opacity="0.38"/>
<polygon points="32.79,285.15 32.79,287.45 31.18,286.30" fill="#e8202a" opacity="0.38"/>
<polygon points="23.89,286.65 23.89,288.95 22.28,287.80" fill="#b02cc4" opacity="0.38"/>
<polygon points="38.09,286.95 38.09,289.25 36.48,288.10" fill="#b02cc4" opacity="0.38"/>
<polygon points="46.29,287.85 46.29,290.15 44.68,289.00" fill="#e8202a" opacity="0.38"/>
<polygon points="19.40,291.04 22.60,291.04 21.00,293.28" fill="#b02cc4" opacity="0.95"/>
<polygon points="24.16,290.40 24.16,293.60 21.92,292.00" fill="#f07a1c" opacity="0.95"/>
<polygon points="20.80,292.74 24.00,292.74 22.40,294.98" fill="#1f35f0" opacity="0.95"/>
<polygon points="27.16,289.10 27.16,292.30 24.92,290.70" fill="#b02cc4" opacity="0.95"/>
<polygon points="24.60,296.54 27.80,296.54 26.20,298.78" fill="#1f35f0" opacity="0.95"/>
<polygon points="29.89,294.85 29.89,297.15 28.28,296.00" fill="#1fa653" opacity="0.38"/>
<polygon points="33.59,297.05 33.59,299.35 31.98,298.20" fill="#f07a1c" opacity="0.38"/>
<polygon points="35.09,295.25 35.09,297.55 33.48,296.40" fill="#b02cc4" opacity="0.38"/>
<polygon points="36.59,296.75 36.59,299.05 34.98,297.90" fill="#1f35f0" opacity="0.38"/>
<polygon points="37.30,293.94 40.50,293.94 38.90,296.18" fill="#1fa653" opacity="0.95"/>
<polygon points="60.49,287.85 60.49,290.15 58.88,289.00" fill="#1fa653" opacity="0.38"/>
<polygon points="64.19,284.35 64.19,286.65 62.58,285.50" fill="#f07a1c" opacity="0.38"/>
<polygon points="69.09,281.35 69.09,283.65 67.48,282.50" fill="#1fa653" opacity="0.38"/>
<polygon points="72.09,280.95 72.09,283.25 70.48,282.10" fill="#1fa653" opacity="0.38"/>
<polygon points="56.69,233.35 56.69,235.65 55.08,234.50" fill="#b02cc4" opacity="0.38"/>
<polygon points="110.90,194.62 114.30,194.62 112.60,192.24" fill="none" stroke="#b02cc4" stroke-width="0.4" opacity="0.22"/>
<polygon points="119.99,184.85 119.99,187.15 118.38,186.00" fill="#b02cc4" opacity="0.38"/>
<circle cx="120.40" cy="203.30" r="1.3" fill="none" stroke="#b02cc4" stroke-width="0.4" opacity="0.2"/>
<circle cx="129.40" cy="203.90" r="1.3" fill="none" stroke="#b02cc4" stroke-width="0.4" opacity="0.2"/>
<circle cx="136.10" cy="218.90" r="1.3" fill="none" stroke="#e8202a" stroke-width="0.4" opacity="0.2"/>
<polygon points="144.59,226.75 144.59,229.05 142.98,227.90" fill="#b02cc4" opacity="0.38"/>
<circle cx="117.80" cy="223.40" r="1.3" fill="none" stroke="#b02cc4" stroke-width="0.4" opacity="0.2"/>
<polygon points="98.29,220.05 98.29,222.35 96.68,221.20" fill="#b02cc4" opacity="0.38"/>
<polygon points="121.09,227.85 121.09,230.15 119.48,229.00" fill="#e8202a" opacity="0.38"/>
<circle cx="126.30" cy="231.70" r="1.3" fill="none" stroke="#e8202a" stroke-width="0.4" opacity="0.2"/>
<circle cx="128.30" cy="227.90" r="1.3" fill="none" stroke="#f07a1c" stroke-width="0.4" opacity="0.2"/>
<circle cx="134.30" cy="235.30" r="1.3" fill="none" stroke="#e8202a" stroke-width="0.4" opacity="0.2"/>
<polygon points="118.49,234.55 118.49,236.85 116.88,235.70" fill="#f07a1c" opacity="0.38"/>
<circle cx="118.20" cy="241.30" r="1.3" fill="none" stroke="#b02cc4" stroke-width="0.4" opacity="0.2"/>
<polygon points="93.00,241.38 96.40,241.38 94.70,243.76" fill="none" stroke="#b02cc4" stroke-width="0.4" opacity="0.22"/>
<polygon points="93.79,235.05 93.79,237.35 92.18,236.20" fill="#e8202a" opacity="0.38"/>
<polygon points="107.29,242.45 107.29,244.75 105.68,243.60" fill="#b02cc4" opacity="0.38"/>
<polygon points="69.69,240.85 69.69,243.15 68.08,242.00" fill="#1f35f0" opacity="0.38"/>
<polygon points="68.49,243.95 68.49,246.25 66.88,245.10" fill="#1fa653" opacity="0.38"/>
<polygon points="83.49,241.25 83.49,243.55 81.88,242.40" fill="#e8202a" opacity="0.38"/>
<polygon points="92.26,245.30 92.26,248.50 90.02,246.90" fill="#e8202a" opacity="0.95"/>
<polygon points="97.60,248.96 100.80,248.96 99.20,246.72" fill="#f07a1c" opacity="0.95"/>
<polygon points="113.29,246.85 113.29,249.15 111.68,248.00" fill="#b02cc4" opacity="0.38"/>
<polygon points="128.29,244.65 128.29,246.95 126.68,245.80" fill="#e8202a" opacity="0.38"/>
<polygon points="82.60,249.74 85.80,249.74 84.20,251.98" fill="#1f35f0" opacity="0.95"/>
<polygon points="82.60,254.86 85.80,254.86 84.20,252.62" fill="#e8202a" opacity="0.95"/>
<polygon points="76.79,262.35 76.79,264.65 75.18,263.50" fill="#b02cc4" opacity="0.38"/>
<polygon points="84.19,263.95 84.19,266.25 82.58,265.10" fill="#1f35f0" opacity="0.38"/>
<polygon points="78.59,267.55 78.59,269.85 76.98,268.70" fill="#e8202a" opacity="0.38"/>
<polygon points="91.16,265.30 91.16,268.50 88.92,266.90" fill="#1fa653" opacity="0.95"/>
<polygon points="93.79,258.55 93.79,260.85 92.18,259.70" fill="#1fa653" opacity="0.38"/>
<polygon points="96.99,263.95 96.99,266.25 95.38,265.10" fill="#1fa653" opacity="0.38"/>
<polygon points="99.89,266.85 99.89,269.15 98.28,268.00" fill="#f07a1c" opacity="0.38"/>
<polygon points="94.69,270.15 94.69,272.45 93.08,271.30" fill="#1fa653" opacity="0.38"/>
<polygon points="85.79,273.55 85.79,275.85 84.18,274.70" fill="#1fa653" opacity="0.38"/>
<polygon points="73.96,275.30 73.96,278.50 71.72,276.90" fill="#1fa653" opacity="0.95"/>
<polygon points="72.29,280.25 72.29,282.55 70.68,281.40" fill="#1fa653" opacity="0.38"/>
<polygon points="69.19,280.95 69.19,283.25 67.58,282.10" fill="#1fa653" opacity="0.38"/>
<polygon points="108.79,254.55 108.79,256.85 107.18,255.70" fill="#1fa653" opacity="0.38"/>
<polygon points="61.79,257.85 61.79,260.15 60.18,259.00" fill="#b02cc4" opacity="0.38"/>
<polygon points="62.49,270.15 62.49,272.45 60.88,271.30" fill="#1f35f0" opacity="0.38"/>
<polygon points="64.09,284.75 64.09,287.05 62.48,285.90" fill="#f07a1c" opacity="0.38"/>
<polygon points="61.39,288.15 61.39,290.45 59.78,289.30" fill="#1fa653" opacity="0.38"/>
<rect x="25.40" y="288.70" width="2.2" height="1.8" fill="#2a2a2a"/>
<rect x="48.50" y="269.70" width="2.2" height="1.8" fill="#2a2a2a"/>
<rect x="79.50" y="252.10" width="2.2" height="1.8" fill="#2a2a2a"/>
<rect x="110.80" y="230.40" width="2.2" height="1.8" fill="#2a2a2a"/>
<text x="11.30" y="297.20" font-size="4.7" fill="#383838" text-anchor="end" textLength="4.60" lengthAdjust="spacingAndGlyphs" >50</text>
<line x1="12.5" y1="295.50" x2="13.7" y2="295.50" stroke="#aaa" stroke-width="0.5"/>
<line x1="148.3" y1="295.50" x2="149.5" y2="295.50" stroke="#ccc" stroke-width="0.5"/>
<text x="11.30" y="285.18" font-size="4.7" fill="#383838" text-anchor="end" textLength="4.60" lengthAdjust="spacingAndGlyphs" >60</text>
<line x1="12.5" y1="283.48" x2="13.7" y2="283.48" stroke="#aaa" stroke-width="0.5"/>
<line x1="148.3" y1="283.48" x2="149.5" y2="283.48" stroke="#ccc" stroke-width="0.5"/>
<text x="11.30" y="273.15" font-size="4.7" fill="#383838" text-anchor="end" textLength="4.60" lengthAdjust="spacingAndGlyphs" >70</text>
<line x1="12.5" y1="271.45" x2="13.7" y2="271.45" stroke="#aaa" stroke-width="0.5"/>
<line x1="148.3" y1="271.45" x2="149.5" y2="271.45" stroke="#ccc" stroke-width="0.5"/>
<text x="11.30" y="261.13" font-size="4.7" fill="#383838" text-anchor="end" textLength="4.60" lengthAdjust="spacingAndGlyphs" >80</text>
<line x1="12.5" y1="259.43" x2="13.7" y2="259.43" stroke="#aaa" stroke-width="0.5"/>
<line x1="148.3" y1="259.43" x2="149.5" y2="259.43" stroke="#ccc" stroke-width="0.5"/>
<text x="11.30" y="249.11" font-size="4.7" fill="#383838" text-anchor="end" textLength="4.60" lengthAdjust="spacingAndGlyphs" >90</text>
<line x1="12.5" y1="247.41" x2="13.7" y2="247.41" stroke="#aaa" stroke-width="0.5"/>
<line x1="148.3" y1="247.41" x2="149.5" y2="247.41" stroke="#ccc" stroke-width="0.5"/>
<text x="11.30" y="237.09" font-size="4.7" fill="#383838" text-anchor="end" textLength="6.30" lengthAdjust="spacingAndGlyphs" >100</text>
<line x1="12.5" y1="235.39" x2="13.7" y2="235.39" stroke="#aaa" stroke-width="0.5"/>
<line x1="148.3" y1="235.39" x2="149.5" y2="235.39" stroke="#ccc" stroke-width="0.5"/>
<text x="11.30" y="225.07" font-size="4.7" fill="#383838" text-anchor="end" textLength="6.30" lengthAdjust="spacingAndGlyphs" >110</text>
<line x1="12.5" y1="223.37" x2="13.7" y2="223.37" stroke="#aaa" stroke-width="0.5"/>
<line x1="148.3" y1="223.37" x2="149.5" y2="223.37" stroke="#ccc" stroke-width="0.5"/>
<text x="11.30" y="213.04" font-size="4.7" fill="#383838" text-anchor="end" textLength="6.30" lengthAdjust="spacingAndGlyphs" >120</text>
<line x1="12.5" y1="211.34" x2="13.7" y2="211.34" stroke="#aaa" stroke-width="0.5"/>
<line x1="148.3" y1="211.34" x2="149.5" y2="211.34" stroke="#ccc" stroke-width="0.5"/>
<text x="11.30" y="201.02" font-size="4.7" fill="#383838" text-anchor="end" textLength="6.30" lengthAdjust="spacingAndGlyphs" >130</text>
<line x1="12.5" y1="199.32" x2="13.7" y2="199.32" stroke="#aaa" stroke-width="0.5"/>
<line x1="148.3" y1="199.32" x2="149.5" y2="199.32" stroke="#ccc" stroke-width="0.5"/>
<text x="11.30" y="189.00" font-size="4.7" fill="#383838" text-anchor="end" textLength="6.30" lengthAdjust="spacingAndGlyphs" >140</text>
<line x1="12.5" y1="187.30" x2="13.7" y2="187.30" stroke="#aaa" stroke-width="0.5"/>
<line x1="148.3" y1="187.30" x2="149.5" y2="187.30" stroke="#ccc" stroke-width="0.5"/>
<text x="18.40" y="311.70" font-size="4.6" fill="#383838" text-anchor="middle" textLength="2.35" lengthAdjust="spacingAndGlyphs" >0</text>
<line x1="18.4" y1="307.70000000000005" x2="18.4" y2="306.50000000000006" stroke="#aaa" stroke-width="0.5"/>
<line x1="18.4" y1="181.70000000000002" x2="18.4" y2="182.9" stroke="#ccc" stroke-width="0.5"/>
<text x="33.80" y="311.70" font-size="4.6" fill="#383838" text-anchor="middle" textLength="2.35" lengthAdjust="spacingAndGlyphs" >5</text>
<line x1="33.8" y1="307.70000000000005" x2="33.8" y2="306.50000000000006" stroke="#aaa" stroke-width="0.5"/>
<line x1="33.8" y1="181.70000000000002" x2="33.8" y2="182.9" stroke="#ccc" stroke-width="0.5"/>
<text x="49.90" y="311.70" font-size="4.6" fill="#383838" text-anchor="middle" textLength="4.70" lengthAdjust="spacingAndGlyphs" >10</text>
<line x1="49.9" y1="307.70000000000005" x2="49.9" y2="306.50000000000006" stroke="#aaa" stroke-width="0.5"/>
<line x1="49.9" y1="181.70000000000002" x2="49.9" y2="182.9" stroke="#ccc" stroke-width="0.5"/>
<text x="64.70" y="311.70" font-size="4.6" fill="#383838" text-anchor="middle" textLength="4.70" lengthAdjust="spacingAndGlyphs" >15</text>
<line x1="64.7" y1="307.70000000000005" x2="64.7" y2="306.50000000000006" stroke="#aaa" stroke-width="0.5"/>
<line x1="64.7" y1="181.70000000000002" x2="64.7" y2="182.9" stroke="#ccc" stroke-width="0.5"/>
<text x="80.30" y="311.70" font-size="4.6" fill="#383838" text-anchor="middle" textLength="4.70" lengthAdjust="spacingAndGlyphs" >20</text>
<line x1="80.3" y1="307.70000000000005" x2="80.3" y2="306.50000000000006" stroke="#aaa" stroke-width="0.5"/>
<line x1="80.3" y1="181.70000000000002" x2="80.3" y2="182.9" stroke="#ccc" stroke-width="0.5"/>
<text x="96.40" y="311.70" font-size="4.6" fill="#383838" text-anchor="middle" textLength="4.70" lengthAdjust="spacingAndGlyphs" >25</text>
<line x1="96.4" y1="307.70000000000005" x2="96.4" y2="306.50000000000006" stroke="#aaa" stroke-width="0.5"/>
<line x1="96.4" y1="181.70000000000002" x2="96.4" y2="182.9" stroke="#ccc" stroke-width="0.5"/>
<text x="112.00" y="311.70" font-size="4.6" fill="#383838" text-anchor="middle" textLength="4.70" lengthAdjust="spacingAndGlyphs" >30</text>
<line x1="112" y1="307.70000000000005" x2="112" y2="306.50000000000006" stroke="#aaa" stroke-width="0.5"/>
<line x1="112" y1="181.70000000000002" x2="112" y2="182.9" stroke="#ccc" stroke-width="0.5"/>
<text x="127.70" y="311.70" font-size="4.6" fill="#383838" text-anchor="middle" textLength="4.70" lengthAdjust="spacingAndGlyphs" >35</text>
<line x1="127.7" y1="307.70000000000005" x2="127.7" y2="306.50000000000006" stroke="#aaa" stroke-width="0.5"/>
<line x1="127.7" y1="181.70000000000002" x2="127.7" y2="182.9" stroke="#ccc" stroke-width="0.5"/>
<text x="143.80" y="311.70" font-size="4.6" fill="#383838" text-anchor="middle" textLength="4.70" lengthAdjust="spacingAndGlyphs" >40</text>
<line x1="143.8" y1="307.70000000000005" x2="143.8" y2="306.50000000000006" stroke="#aaa" stroke-width="0.5"/>
<line x1="143.8" y1="181.70000000000002" x2="143.8" y2="182.9" stroke="#ccc" stroke-width="0.5"/>
<text x="70.60" y="315.51" font-size="4.2" fill="#222" text-anchor="start" textLength="20.70" lengthAdjust="spacingAndGlyphs" >% of total PE</text>
<text x="0" y="0" font-size="47" fill="#333" text-anchor="middle" textLength="524" lengthAdjust="spacingAndGlyphs" transform="translate(3.3,242.20) rotate(-90) scale(0.1)">2100 global mean SLR [cm]</text>
<text x="25.00" y="193.50" font-size="5.0" fill="#333" text-anchor="start" textLength="6.80" lengthAdjust="spacingAndGlyphs" >(c)</text>
<line x1="153.90" y1="287.6" x2="153.90" y2="297.8" stroke="#7a90cc" stroke-width="1.5"/>
<line x1="156.90" y1="271.3" x2="156.90" y2="289.0" stroke="#92e0d6" stroke-width="1.5"/>
<line x1="159.60" y1="259.3" x2="159.60" y2="271.20000000000005" stroke="#a2c4f0" stroke-width="1.5"/>
<line x1="162.30" y1="234.9" x2="162.30" y2="254.3" stroke="#f8bf95" stroke-width="1.5"/>
<line x1="165.10" y1="186.3" x2="165.10" y2="258.3" stroke="#f49a9a" stroke-width="1.5"/>
<rect x="153.40" y="302.50" width="1.4" height="5.50" fill="#999"/>
<rect x="153.40" y="302.95" width="1.4" height="0.4" fill="#fff" opacity="0.6"/>
<rect x="153.40" y="304.25" width="1.4" height="0.4" fill="#fff" opacity="0.6"/>
<rect x="153.40" y="305.55" width="1.4" height="0.4" fill="#fff" opacity="0.6"/>
<rect x="153.40" y="306.85" width="1.4" height="0.4" fill="#fff" opacity="0.6"/>
<rect x="156.40" y="302.50" width="1.4" height="5.50" fill="#999"/>
<rect x="156.40" y="302.95" width="1.4" height="0.4" fill="#fff" opacity="0.6"/>
<rect x="156.40" y="304.25" width="1.4" height="0.4" fill="#fff" opacity="0.6"/>
<rect x="156.40" y="305.55" width="1.4" height="0.4" fill="#fff" opacity="0.6"/>
<rect x="156.40" y="306.85" width="1.4" height="0.4" fill="#fff" opacity="0.6"/>
<rect x="159.10" y="302.50" width="1.4" height="5.50" fill="#999"/>
<rect x="159.10" y="302.95" width="1.4" height="0.4" fill="#fff" opacity="0.6"/>
<rect x="159.10" y="304.25" width="1.4" height="0.4" fill="#fff" opacity="0.6"/>
<rect x="159.10" y="305.55" width="1.4" height="0.4" fill="#fff" opacity="0.6"/>
<rect x="159.10" y="306.85" width="1.4" height="0.4" fill="#fff" opacity="0.6"/>
<rect x="161.80" y="302.50" width="1.4" height="5.50" fill="#999"/>
<rect x="161.80" y="302.95" width="1.4" height="0.4" fill="#fff" opacity="0.6"/>
<rect x="161.80" y="304.25" width="1.4" height="0.4" fill="#fff" opacity="0.6"/>
<rect x="161.80" y="305.55" width="1.4" height="0.4" fill="#fff" opacity="0.6"/>
<rect x="161.80" y="306.85" width="1.4" height="0.4" fill="#fff" opacity="0.6"/>
<rect x="164.60" y="297.30" width="1.4" height="10.70" fill="#999"/>
<rect x="164.60" y="297.75" width="1.4" height="0.4" fill="#fff" opacity="0.6"/>
<rect x="164.60" y="299.05" width="1.4" height="0.4" fill="#fff" opacity="0.6"/>
<rect x="164.60" y="300.35" width="1.4" height="0.4" fill="#fff" opacity="0.6"/>
<rect x="164.60" y="301.65" width="1.4" height="0.4" fill="#fff" opacity="0.6"/>
<rect x="164.60" y="302.95" width="1.4" height="0.4" fill="#fff" opacity="0.6"/>
<rect x="164.60" y="304.25" width="1.4" height="0.4" fill="#fff" opacity="0.6"/>
<rect x="164.60" y="305.55" width="1.4" height="0.4" fill="#fff" opacity="0.6"/>
<rect x="164.60" y="306.85" width="1.4" height="0.4" fill="#fff" opacity="0.6"/>
<text x="203.00" y="165.05" font-size="6.3" fill="#111" text-anchor="start" textLength="93.30" lengthAdjust="spacingAndGlyphs" >2050 PE renewables w/o biomass</text>
<line x1="190.9" y1="167.20000000000002" x2="262.7" y2="167.20000000000002" stroke="#e09ce0" stroke-width="1.3"/>
<line x1="203.4" y1="169.70000000000002" x2="291.6" y2="169.70000000000002" stroke="#f8c09a" stroke-width="1.3"/>
<line x1="195.1" y1="172.3" x2="264" y2="172.3" stroke="#fa8282" stroke-width="1.3"/>
<line x1="198.9" y1="174.8" x2="288.8" y2="174.8" stroke="#7478f2" stroke-width="1.3"/>
<line x1="215.7" y1="177.4" x2="312.5" y2="177.4" stroke="#7cd4a0" stroke-width="1.3"/>
<text x="181.30" y="168.15" font-size="2.8" fill="#222" text-anchor="start" textLength="5.80" lengthAdjust="spacingAndGlyphs" >SSP5</text>
<text x="181.30" y="170.65" font-size="2.8" fill="#222" text-anchor="start" textLength="5.80" lengthAdjust="spacingAndGlyphs" >SSP4</text>
<text x="181.30" y="173.25" font-size="2.8" fill="#222" text-anchor="start" textLength="5.80" lengthAdjust="spacingAndGlyphs" >SSP3</text>
<text x="181.30" y="175.75" font-size="2.8" fill="#222" text-anchor="start" textLength="5.80" lengthAdjust="spacingAndGlyphs" >SSP2</text>
<text x="181.30" y="178.35" font-size="2.8" fill="#222" text-anchor="start" textLength="5.80" lengthAdjust="spacingAndGlyphs" >SSP1</text>
<line x1="202.3" y1="181.70000000000002" x2="202.3" y2="307.70000000000005" stroke="#e2e2e2" stroke-width="0.45" stroke-dasharray="0.8,1.2"/>
<line x1="220.7" y1="181.70000000000002" x2="220.7" y2="307.70000000000005" stroke="#e2e2e2" stroke-width="0.45" stroke-dasharray="0.8,1.2"/>
<line x1="239.4" y1="181.70000000000002" x2="239.4" y2="307.70000000000005" stroke="#e2e2e2" stroke-width="0.45" stroke-dasharray="0.8,1.2"/>
<rect x="181.6" y="181.70000000000002" width="136.9" height="126.00000000000003" fill="none" stroke="#d4d4d4" stroke-width="0.6"/>
<line x1="181.6" y1="181.70000000000002" x2="181.6" y2="307.70000000000005" stroke="#bdbdbd" stroke-width="0.8"/>
<line x1="181.6" y1="307.70000000000005" x2="318.5" y2="307.70000000000005" stroke="#bdbdbd" stroke-width="0.8"/>
<line x1="193.7" y1="189.8" x2="193.7" y2="250.0" stroke="#e3eaf5" stroke-width="1.4"/>
<rect x="192.40" y="209.5" width="2.6" height="28.60" fill="#b3c6e3"/>
<line x1="212.0" y1="225.6" x2="212.0" y2="283.6" stroke="#e3eaf5" stroke-width="1.4"/>
<rect x="210.70" y="244.4" width="2.6" height="26.10" fill="#b3c6e3"/>
<line x1="230.1" y1="238.1" x2="230.1" y2="290.5" stroke="#e3eaf5" stroke-width="1.4"/>
<rect x="228.80" y="251.3" width="2.6" height="27.00" fill="#b3c6e3"/>
<line x1="248.0" y1="264.5" x2="248.0" y2="296.0" stroke="#e3eaf5" stroke-width="1.4"/>
<rect x="246.70" y="279.7" width="2.6" height="12.80" fill="#b3c6e3"/>
<polygon points="200.49,184.65 200.49,186.95 198.88,185.80" fill="#b02cc4" opacity="0.38"/>
<polygon points="188.90,194.82 192.30,194.82 190.60,192.44" fill="none" stroke="#b02cc4" stroke-width="0.4" opacity="0.22"/>
<polygon points="190.09,197.45 190.09,199.75 188.48,198.60" fill="#b02cc4" opacity="0.38"/>
<circle cx="198.40" cy="203.80" r="1.3" fill="none" stroke="#b02cc4" stroke-width="0.4" opacity="0.2"/>
<circle cx="203.60" cy="218.60" r="1.3" fill="none" stroke="#b02cc4" stroke-width="0.4" opacity="0.2"/>
<polygon points="206.09,220.05 206.09,222.35 204.48,221.20" fill="#b02cc4" opacity="0.38"/>
<circle cx="198.40" cy="222.90" r="1.3" fill="none" stroke="#b02cc4" stroke-width="0.4" opacity="0.2"/>
<circle cx="195.30" cy="232.20" r="1.3" fill="none" stroke="#e8202a" stroke-width="0.4" opacity="0.2"/>
<polygon points="205.10,229.72 208.50,229.72 206.80,227.34" fill="none" stroke="#b02cc4" stroke-width="0.4" opacity="0.22"/>
<polygon points="199.09,227.05 199.09,229.35 197.48,228.20" fill="#f07a1c" opacity="0.38"/>
<polygon points="200.49,232.75 200.49,235.05 198.88,233.90" fill="#f07a1c" opacity="0.38"/>
<polygon points="202.99,235.25 202.99,237.55 201.38,236.40" fill="#e8202a" opacity="0.38"/>
<polygon points="194.20,243.06 197.40,243.06 195.80,240.82" fill="#b02cc4" opacity="0.95"/>
<polygon points="203.49,242.65 203.49,244.95 201.88,243.80" fill="#b02cc4" opacity="0.38"/>
<polygon points="210.39,241.85 210.39,244.15 208.78,243.00" fill="#f07a1c" opacity="0.38"/>
<polygon points="203.99,244.05 203.99,246.35 202.38,245.20" fill="#e8202a" opacity="0.38"/>
<polygon points="202.90,248.76 206.10,248.76 204.50,246.52" fill="#f07a1c" opacity="0.95"/>
<polygon points="209.59,246.65 209.59,248.95 207.98,247.80" fill="#b02cc4" opacity="0.38"/>
<polygon points="214.79,245.65 214.79,247.95 213.18,246.80" fill="#1f35f0" opacity="0.38"/>
<polygon points="220.39,240.95 220.39,243.25 218.78,242.10" fill="#b02cc4" opacity="0.38"/>
<polygon points="222.09,233.15 222.09,235.45 220.48,234.30" fill="#b02cc4" opacity="0.38"/>
<polygon points="220.89,242.65 220.89,244.95 219.28,243.80" fill="#b02cc4" opacity="0.38"/>
<polygon points="242.29,243.25 242.29,245.55 240.68,244.40" fill="#1fa653" opacity="0.38"/>
<polygon points="201.70,254.86 204.90,254.86 203.30,252.62" fill="#e8202a" opacity="0.95"/>
<polygon points="200.89,250.65 200.89,252.95 199.28,251.80" fill="#b02cc4" opacity="0.38"/>
<polygon points="209.19,258.05 209.19,260.35 207.58,259.20" fill="#b02cc4" opacity="0.38"/>
<polygon points="202.00,264.96 205.20,264.96 203.60,262.72" fill="#b02cc4" opacity="0.95"/>
<polygon points="202.59,264.15 202.59,266.45 200.98,265.30" fill="#b02cc4" opacity="0.38"/>
<polygon points="209.89,263.25 209.89,265.55 208.28,264.40" fill="#b02cc4" opacity="0.38"/>
<polygon points="208.46,269.40 208.46,272.60 206.22,271.00" fill="#e8202a" opacity="0.95"/>
<polygon points="211.69,270.25 211.69,272.55 210.08,271.40" fill="#b02cc4" opacity="0.38"/>
<polygon points="214.76,268.40 214.76,271.60 212.52,270.00" fill="#f07a1c" opacity="0.95"/>
<polygon points="206.90,277.16 210.10,277.16 208.50,274.92" fill="#b02cc4" opacity="0.95"/>
<polygon points="203.49,278.95 203.49,281.25 201.88,280.10" fill="#b02cc4" opacity="0.38"/>
<polygon points="217.39,264.15 217.39,266.45 215.78,265.30" fill="#1f35f0" opacity="0.38"/>
<polygon points="221.39,264.65 221.39,266.95 219.78,265.80" fill="#1f35f0" opacity="0.38"/>
<polygon points="223.00,249.84 226.20,249.84 224.60,252.08" fill="#1f35f0" opacity="0.95"/>
<circle cx="222.80" cy="258.30" r="1.3" fill="none" stroke="#1fa653" stroke-width="0.4" opacity="0.2"/>
<polygon points="226.96,264.90 226.96,268.10 224.72,266.50" fill="#1fa653" opacity="0.95"/>
<polygon points="229.90,264.34 233.10,264.34 231.50,266.58" fill="#1f35f0" opacity="0.95"/>
<polygon points="226.69,270.25 226.69,272.55 225.08,271.40" fill="#1fa653" opacity="0.38"/>
<polygon points="223.49,273.65 223.49,275.95 221.88,274.80" fill="#1fa653" opacity="0.38"/>
<polygon points="234.79,266.75 234.79,269.05 233.18,267.90" fill="#f07a1c" opacity="0.38"/>
<polygon points="236.09,262.85 236.09,265.15 234.48,264.00" fill="#b02cc4" opacity="0.38"/>
<polygon points="239.19,251.95 239.19,254.25 237.58,253.10" fill="#f07a1c" opacity="0.38"/>
<polygon points="239.19,259.45 239.19,261.75 237.58,260.60" fill="#1fa653" opacity="0.38"/>
<polygon points="240.89,264.65 240.89,266.95 239.28,265.80" fill="#1fa653" opacity="0.38"/>
<polygon points="234.56,275.30 234.56,278.50 232.32,276.90" fill="#1fa653" opacity="0.95"/>
<polygon points="235.50,277.04 238.70,277.04 237.10,279.28" fill="#1f35f0" opacity="0.95"/>
<polygon points="240.09,280.35 240.09,282.65 238.48,281.50" fill="#b02cc4" opacity="0.38"/>
<polygon points="235.69,283.25 235.69,285.55 234.08,284.40" fill="#1f35f0" opacity="0.38"/>
<polygon points="237.79,287.95 237.79,290.25 236.18,289.10" fill="#1fa653" opacity="0.38"/>
<polygon points="218.86,279.30 218.86,282.50 216.62,280.90" fill="#f07a1c" opacity="0.95"/>
<polygon points="221.39,280.35 221.39,282.65 219.78,281.50" fill="#1f35f0" opacity="0.38"/>
<polygon points="215.36,281.60 215.36,284.80 213.12,283.20" fill="#e8202a" opacity="0.95"/>
<polygon points="217.39,285.55 217.39,287.85 215.78,286.70" fill="#e8202a" opacity="0.38"/>
<polygon points="220.89,287.95 220.89,290.25 219.28,289.10" fill="#b02cc4" opacity="0.38"/>
<polygon points="221.20,292.86 224.40,292.86 222.80,290.62" fill="#f07a1c" opacity="0.95"/>
<polygon points="223.00,292.86 226.20,292.86 224.60,290.62" fill="#b02cc4" opacity="0.95"/>
<polygon points="218.59,294.95 218.59,297.25 216.98,296.10" fill="#b02cc4" opacity="0.38"/>
<polygon points="230.79,295.45 230.79,297.75 229.18,296.60" fill="#1f35f0" opacity="0.38"/>
<polygon points="246.00,293.44 249.20,293.44 247.60,295.68" fill="#1fa653" opacity="0.95"/>
<polygon points="248.20,292.14 251.40,292.14 249.80,294.38" fill="#1f35f0" opacity="0.95"/>
<polygon points="246.19,284.45 246.19,286.75 244.58,285.60" fill="#f07a1c" opacity="0.38"/>
<polygon points="248.79,275.45 248.79,277.75 247.18,276.60" fill="#1fa653" opacity="0.38"/>
<polygon points="254.69,258.35 254.69,260.65 253.08,259.50" fill="#1fa653" opacity="0.38"/>
<polygon points="252.19,265.75 252.19,268.05 250.58,266.90" fill="#f07a1c" opacity="0.38"/>
<polygon points="253.49,279.55 253.49,281.85 251.88,280.70" fill="#1fa653" opacity="0.38"/>
<polygon points="256.89,282.55 256.89,284.85 255.28,283.70" fill="#b02cc4" opacity="0.38"/>
<polygon points="268.49,283.35 268.49,285.65 266.88,284.50" fill="#f07a1c" opacity="0.38"/>
<polygon points="263.99,287.05 263.99,289.35 262.38,288.20" fill="#b02cc4" opacity="0.38"/>
<polygon points="260.99,290.45 260.99,292.75 259.38,291.60" fill="#1fa653" opacity="0.38"/>
<polygon points="281.09,279.55 281.09,281.85 279.48,280.70" fill="#1fa653" opacity="0.38"/>
<polygon points="267.69,294.55 267.69,296.85 266.08,295.70" fill="#1fa653" opacity="0.38"/>
<polygon points="270.29,293.75 270.29,296.05 268.68,294.90" fill="#1f35f0" opacity="0.38"/>
<polygon points="282.59,294.55 282.59,296.85 280.98,295.70" fill="#1fa653" opacity="0.38"/>
<polygon points="289.49,296.95 289.49,299.25 287.88,298.10" fill="#1f35f0" opacity="0.38"/>
<polygon points="292.69,296.95 292.69,299.25 291.08,298.10" fill="#f07a1c" opacity="0.38"/>
<polygon points="313.79,295.65 313.79,297.95 312.18,296.80" fill="#1fa653" opacity="0.38"/>
<polygon points="251.69,296.35 251.69,298.65 250.08,297.50" fill="#1f35f0" opacity="0.38"/>
<polygon points="257.79,296.95 257.79,299.25 256.18,298.10" fill="#f07a1c" opacity="0.38"/>
<rect x="192.60" y="228.10" width="2.2" height="1.8" fill="#2a2a2a"/>
<rect x="210.90" y="259.10" width="2.2" height="1.8" fill="#2a2a2a"/>
<rect x="229.00" y="265.60" width="2.2" height="1.8" fill="#2a2a2a"/>
<rect x="246.90" y="285.30" width="2.2" height="1.8" fill="#2a2a2a"/>
<text x="180.40" y="297.20" font-size="4.7" fill="#383838" text-anchor="end" textLength="4.60" lengthAdjust="spacingAndGlyphs" >50</text>
<line x1="181.6" y1="295.50" x2="182.79999999999998" y2="295.50" stroke="#aaa" stroke-width="0.5"/>
<line x1="317.3" y1="295.50" x2="318.5" y2="295.50" stroke="#ccc" stroke-width="0.5"/>
<text x="180.40" y="285.18" font-size="4.7" fill="#383838" text-anchor="end" textLength="4.60" lengthAdjust="spacingAndGlyphs" >60</text>
<line x1="181.6" y1="283.48" x2="182.79999999999998" y2="283.48" stroke="#aaa" stroke-width="0.5"/>
<line x1="317.3" y1="283.48" x2="318.5" y2="283.48" stroke="#ccc" stroke-width="0.5"/>
<text x="180.40" y="273.15" font-size="4.7" fill="#383838" text-anchor="end" textLength="4.60" lengthAdjust="spacingAndGlyphs" >70</text>
<line x1="181.6" y1="271.45" x2="182.79999999999998" y2="271.45" stroke="#aaa" stroke-width="0.5"/>
<line x1="317.3" y1="271.45" x2="318.5" y2="271.45" stroke="#ccc" stroke-width="0.5"/>
<text x="180.40" y="261.13" font-size="4.7" fill="#383838" text-anchor="end" textLength="4.60" lengthAdjust="spacingAndGlyphs" >80</text>
<line x1="181.6" y1="259.43" x2="182.79999999999998" y2="259.43" stroke="#aaa" stroke-width="0.5"/>
<line x1="317.3" y1="259.43" x2="318.5" y2="259.43" stroke="#ccc" stroke-width="0.5"/>
<text x="180.40" y="249.11" font-size="4.7" fill="#383838" text-anchor="end" textLength="4.60" lengthAdjust="spacingAndGlyphs" >90</text>
<line x1="181.6" y1="247.41" x2="182.79999999999998" y2="247.41" stroke="#aaa" stroke-width="0.5"/>
<line x1="317.3" y1="247.41" x2="318.5" y2="247.41" stroke="#ccc" stroke-width="0.5"/>
<text x="180.40" y="237.09" font-size="4.7" fill="#383838" text-anchor="end" textLength="6.30" lengthAdjust="spacingAndGlyphs" >100</text>
<line x1="181.6" y1="235.39" x2="182.79999999999998" y2="235.39" stroke="#aaa" stroke-width="0.5"/>
<line x1="317.3" y1="235.39" x2="318.5" y2="235.39" stroke="#ccc" stroke-width="0.5"/>
<text x="180.40" y="225.07" font-size="4.7" fill="#383838" text-anchor="end" textLength="6.30" lengthAdjust="spacingAndGlyphs" >110</text>
<line x1="181.6" y1="223.37" x2="182.79999999999998" y2="223.37" stroke="#aaa" stroke-width="0.5"/>
<line x1="317.3" y1="223.37" x2="318.5" y2="223.37" stroke="#ccc" stroke-width="0.5"/>
<text x="180.40" y="213.04" font-size="4.7" fill="#383838" text-anchor="end" textLength="6.30" lengthAdjust="spacingAndGlyphs" >120</text>
<line x1="181.6" y1="211.34" x2="182.79999999999998" y2="211.34" stroke="#aaa" stroke-width="0.5"/>
<line x1="317.3" y1="211.34" x2="318.5" y2="211.34" stroke="#ccc" stroke-width="0.5"/>
<text x="180.40" y="201.02" font-size="4.7" fill="#383838" text-anchor="end" textLength="6.30" lengthAdjust="spacingAndGlyphs" >130</text>
<line x1="181.6" y1="199.32" x2="182.79999999999998" y2="199.32" stroke="#aaa" stroke-width="0.5"/>
<line x1="317.3" y1="199.32" x2="318.5" y2="199.32" stroke="#ccc" stroke-width="0.5"/>
<text x="180.40" y="189.00" font-size="4.7" fill="#383838" text-anchor="end" textLength="6.30" lengthAdjust="spacingAndGlyphs" >140</text>
<line x1="181.6" y1="187.30" x2="182.79999999999998" y2="187.30" stroke="#aaa" stroke-width="0.5"/>
<line x1="317.3" y1="187.30" x2="318.5" y2="187.30" stroke="#ccc" stroke-width="0.5"/>
<text x="184.80" y="311.70" font-size="4.6" fill="#383838" text-anchor="middle" textLength="2.35" lengthAdjust="spacingAndGlyphs" >0</text>
<line x1="184.8" y1="307.70000000000005" x2="184.8" y2="306.50000000000006" stroke="#aaa" stroke-width="0.5"/>
<line x1="184.8" y1="181.70000000000002" x2="184.8" y2="182.9" stroke="#ccc" stroke-width="0.5"/>
<text x="202.60" y="311.70" font-size="4.6" fill="#383838" text-anchor="middle" textLength="2.35" lengthAdjust="spacingAndGlyphs" >5</text>
<line x1="202.6" y1="307.70000000000005" x2="202.6" y2="306.50000000000006" stroke="#aaa" stroke-width="0.5"/>
<line x1="202.6" y1="181.70000000000002" x2="202.6" y2="182.9" stroke="#ccc" stroke-width="0.5"/>
<text x="220.70" y="311.70" font-size="4.6" fill="#383838" text-anchor="middle" textLength="4.70" lengthAdjust="spacingAndGlyphs" >10</text>
<line x1="220.7" y1="307.70000000000005" x2="220.7" y2="306.50000000000006" stroke="#aaa" stroke-width="0.5"/>
<line x1="220.7" y1="181.70000000000002" x2="220.7" y2="182.9" stroke="#ccc" stroke-width="0.5"/>
<text x="238.90" y="311.70" font-size="4.6" fill="#383838" text-anchor="middle" textLength="4.70" lengthAdjust="spacingAndGlyphs" >15</text>
<line x1="238.9" y1="307.70000000000005" x2="238.9" y2="306.50000000000006" stroke="#aaa" stroke-width="0.5"/>
<line x1="238.9" y1="181.70000000000002" x2="238.9" y2="182.9" stroke="#ccc" stroke-width="0.5"/>
<text x="256.70" y="311.70" font-size="4.6" fill="#383838" text-anchor="middle" textLength="4.70" lengthAdjust="spacingAndGlyphs" >20</text>
<line x1="256.7" y1="307.70000000000005" x2="256.7" y2="306.50000000000006" stroke="#aaa" stroke-width="0.5"/>
<line x1="256.7" y1="181.70000000000002" x2="256.7" y2="182.9" stroke="#ccc" stroke-width="0.5"/>
<text x="274.90" y="311.70" font-size="4.6" fill="#383838" text-anchor="middle" textLength="4.70" lengthAdjust="spacingAndGlyphs" >25</text>
<line x1="274.9" y1="307.70000000000005" x2="274.9" y2="306.50000000000006" stroke="#aaa" stroke-width="0.5"/>
<line x1="274.9" y1="181.70000000000002" x2="274.9" y2="182.9" stroke="#ccc" stroke-width="0.5"/>
<text x="292.60" y="311.70" font-size="4.6" fill="#383838" text-anchor="middle" textLength="4.70" lengthAdjust="spacingAndGlyphs" >30</text>
<line x1="292.6" y1="307.70000000000005" x2="292.6" y2="306.50000000000006" stroke="#aaa" stroke-width="0.5"/>
<line x1="292.6" y1="181.70000000000002" x2="292.6" y2="182.9" stroke="#ccc" stroke-width="0.5"/>
<text x="310.80" y="311.70" font-size="4.6" fill="#383838" text-anchor="middle" textLength="4.70" lengthAdjust="spacingAndGlyphs" >35</text>
<line x1="310.8" y1="307.70000000000005" x2="310.8" y2="306.50000000000006" stroke="#aaa" stroke-width="0.5"/>
<line x1="310.8" y1="181.70000000000002" x2="310.8" y2="182.9" stroke="#ccc" stroke-width="0.5"/>
<text x="236.70" y="316.40" font-size="5.0" fill="#222" text-anchor="start" textLength="24.30" lengthAdjust="spacingAndGlyphs" >% of total PE</text>
<text x="300.20" y="193.50" font-size="5.0" fill="#333" text-anchor="start" textLength="6.80" lengthAdjust="spacingAndGlyphs" >(d)</text>
<line x1="322.90" y1="287.6" x2="322.90" y2="297.8" stroke="#7a90cc" stroke-width="1.5"/>
<line x1="325.90" y1="271.3" x2="325.90" y2="289.0" stroke="#92e0d6" stroke-width="1.5"/>
<line x1="328.60" y1="259.3" x2="328.60" y2="271.20000000000005" stroke="#a2c4f0" stroke-width="1.5"/>
<line x1="331.30" y1="234.9" x2="331.30" y2="254.3" stroke="#f8bf95" stroke-width="1.5"/>
<line x1="334.10" y1="186.3" x2="334.10" y2="258.3" stroke="#f49a9a" stroke-width="1.5"/>
<rect x="322.40" y="302.50" width="1.4" height="5.50" fill="#999"/>
<rect x="322.40" y="302.95" width="1.4" height="0.4" fill="#fff" opacity="0.6"/>
<rect x="322.40" y="304.25" width="1.4" height="0.4" fill="#fff" opacity="0.6"/>
<rect x="322.40" y="305.55" width="1.4" height="0.4" fill="#fff" opacity="0.6"/>
<rect x="322.40" y="306.85" width="1.4" height="0.4" fill="#fff" opacity="0.6"/>
<rect x="325.40" y="302.50" width="1.4" height="5.50" fill="#999"/>
<rect x="325.40" y="302.95" width="1.4" height="0.4" fill="#fff" opacity="0.6"/>
<rect x="325.40" y="304.25" width="1.4" height="0.4" fill="#fff" opacity="0.6"/>
<rect x="325.40" y="305.55" width="1.4" height="0.4" fill="#fff" opacity="0.6"/>
<rect x="325.40" y="306.85" width="1.4" height="0.4" fill="#fff" opacity="0.6"/>
<rect x="328.10" y="302.50" width="1.4" height="5.50" fill="#999"/>
<rect x="328.10" y="302.95" width="1.4" height="0.4" fill="#fff" opacity="0.6"/>
<rect x="328.10" y="304.25" width="1.4" height="0.4" fill="#fff" opacity="0.6"/>
<rect x="328.10" y="305.55" width="1.4" height="0.4" fill="#fff" opacity="0.6"/>
<rect x="328.10" y="306.85" width="1.4" height="0.4" fill="#fff" opacity="0.6"/>
<rect x="330.80" y="302.50" width="1.4" height="5.50" fill="#999"/>
<rect x="330.80" y="302.95" width="1.4" height="0.4" fill="#fff" opacity="0.6"/>
<rect x="330.80" y="304.25" width="1.4" height="0.4" fill="#fff" opacity="0.6"/>
<rect x="330.80" y="305.55" width="1.4" height="0.4" fill="#fff" opacity="0.6"/>
<rect x="330.80" y="306.85" width="1.4" height="0.4" fill="#fff" opacity="0.6"/>
<rect x="333.60" y="297.30" width="1.4" height="10.70" fill="#999"/>
<rect x="333.60" y="297.75" width="1.4" height="0.4" fill="#fff" opacity="0.6"/>
<rect x="333.60" y="299.05" width="1.4" height="0.4" fill="#fff" opacity="0.6"/>
<rect x="333.60" y="300.35" width="1.4" height="0.4" fill="#fff" opacity="0.6"/>
<rect x="333.60" y="301.65" width="1.4" height="0.4" fill="#fff" opacity="0.6"/>
<rect x="333.60" y="302.95" width="1.4" height="0.4" fill="#fff" opacity="0.6"/>
<rect x="333.60" y="304.25" width="1.4" height="0.4" fill="#fff" opacity="0.6"/>
<rect x="333.60" y="305.55" width="1.4" height="0.4" fill="#fff" opacity="0.6"/>
<rect x="333.60" y="306.85" width="1.4" height="0.4" fill="#fff" opacity="0.6"/>
<text x="40.10" y="325.35" font-size="6.3" fill="#111" text-anchor="start" textLength="51.20" lengthAdjust="spacingAndGlyphs" >2050 carbon price</text>
<line x1="25" y1="327.5" x2="119.6" y2="327.5" stroke="#e09ce0" stroke-width="1.3"/>
<line x1="122.9" y1="327.5" x2="137.5" y2="327.5" stroke="#e09ce0" stroke-width="1.3"/>
<line x1="20" y1="330.0" x2="112.1" y2="330.0" stroke="#f8c09a" stroke-width="1.3"/>
<line x1="22.2" y1="332.6" x2="94" y2="332.6" stroke="#fa8282" stroke-width="1.3"/>
<line x1="20.5" y1="335.1" x2="119.6" y2="335.1" stroke="#7478f2" stroke-width="1.3"/>
<line x1="122.9" y1="335.1" x2="142.9" y2="335.1" stroke="#7478f2" stroke-width="1.3"/>
<line x1="20" y1="337.70000000000005" x2="119.6" y2="337.70000000000005" stroke="#7cd4a0" stroke-width="1.3"/>
<line x1="122.9" y1="337.70000000000005" x2="129.1" y2="337.70000000000005" stroke="#7cd4a0" stroke-width="1.3"/>
<text x="12.20" y="328.45" font-size="2.8" fill="#222" text-anchor="start" textLength="5.80" lengthAdjust="spacingAndGlyphs" >SSP5</text>
<text x="12.20" y="330.95" font-size="2.8" fill="#222" text-anchor="start" textLength="5.80" lengthAdjust="spacingAndGlyphs" >SSP4</text>
<text x="12.20" y="333.55" font-size="2.8" fill="#222" text-anchor="start" textLength="5.80" lengthAdjust="spacingAndGlyphs" >SSP3</text>
<text x="12.20" y="336.05" font-size="2.8" fill="#222" text-anchor="start" textLength="5.80" lengthAdjust="spacingAndGlyphs" >SSP2</text>
<text x="12.20" y="338.65" font-size="2.8" fill="#222" text-anchor="start" textLength="5.80" lengthAdjust="spacingAndGlyphs" >SSP1</text>
<line x1="30.5" y1="342.0" x2="30.5" y2="468.0" stroke="#e2e2e2" stroke-width="0.45" stroke-dasharray="0.8,1.2"/>
<line x1="49.8" y1="342.0" x2="49.8" y2="468.0" stroke="#e2e2e2" stroke-width="0.45" stroke-dasharray="0.8,1.2"/>
<line x1="69.8" y1="342.0" x2="69.8" y2="468.0" stroke="#e2e2e2" stroke-width="0.45" stroke-dasharray="0.8,1.2"/>
<rect x="12.5" y="342.0" width="137.0" height="126.0" fill="none" stroke="#d4d4d4" stroke-width="0.6"/>
<line x1="12.5" y1="342.0" x2="12.5" y2="468.0" stroke="#bdbdbd" stroke-width="0.8"/>
<line x1="12.5" y1="468.0" x2="149.5" y2="468.0" stroke="#bdbdbd" stroke-width="0.8"/>
<line x1="25.1" y1="400.0" x2="25.1" y2="437.0" stroke="#e3eaf5" stroke-width="1.4"/>
<rect x="23.80" y="405.4" width="2.6" height="22.70" fill="#b3c6e3"/>
<line x1="39.8" y1="418.0" x2="39.8" y2="454.0" stroke="#e3eaf5" stroke-width="1.4"/>
<rect x="38.50" y="427.1" width="2.6" height="17.90" fill="#b3c6e3"/>
<line x1="59.6" y1="442.5" x2="59.6" y2="456.0" stroke="#e3eaf5" stroke-width="1.4"/>
<rect x="58.30" y="442.9" width="2.6" height="12.00" fill="#b3c6e3"/>
<line x1="79.6" y1="448.0" x2="79.6" y2="458.0" stroke="#e3eaf5" stroke-width="1.4"/>
<rect x="78.30" y="448.1" width="2.6" height="9.20" fill="#b3c6e3"/>
<polygon points="31.39,391.05 31.39,393.35 29.78,392.20" fill="#b02cc4" opacity="0.38"/>
<polygon points="25.39,393.45 25.39,395.75 23.78,394.60" fill="#b02cc4" opacity="0.38"/>
<polygon points="26.10,401.06 29.30,401.06 27.70,398.82" fill="#b02cc4" opacity="0.95"/>
<polygon points="23.39,398.95 23.39,401.25 21.78,400.10" fill="#b02cc4" opacity="0.38"/>
<polygon points="20.89,401.55 20.89,403.85 19.28,402.70" fill="#1fa653" opacity="0.38"/>
<polygon points="23.09,403.05 23.09,405.35 21.48,404.20" fill="#e8202a" opacity="0.38"/>
<polygon points="21.99,404.25 21.99,406.55 20.38,405.40" fill="#f07a1c" opacity="0.38"/>
<polygon points="19.10,408.64 22.30,408.64 20.70,410.88" fill="#1f35f0" opacity="0.95"/>
<polygon points="20.89,410.45 20.89,412.75 19.28,411.60" fill="#f07a1c" opacity="0.38"/>
<polygon points="24.60,413.06 27.80,413.06 26.20,410.82" fill="#e8202a" opacity="0.95"/>
<polygon points="27.59,409.45 27.59,411.75 25.98,410.60" fill="#b02cc4" opacity="0.38"/>
<polygon points="21.99,417.95 21.99,420.25 20.38,419.10" fill="#1fa653" opacity="0.38"/>
<polygon points="27.59,417.95 27.59,420.25 25.98,419.10" fill="#b02cc4" opacity="0.38"/>
<polygon points="35.39,416.95 35.39,419.25 33.78,418.10" fill="#b02cc4" opacity="0.38"/>
<polygon points="21.60,423.04 24.80,423.04 23.20,425.28" fill="#1f35f0" opacity="0.95"/>
<polygon points="22.66,423.90 22.66,427.10 20.42,425.50" fill="#1fa653" opacity="0.95"/>
<polygon points="21.99,427.35 21.99,429.65 20.38,428.50" fill="#f07a1c" opacity="0.38"/>
<polygon points="24.29,429.55 24.29,431.85 22.68,430.70" fill="#1fa653" opacity="0.38"/>
<polygon points="32.09,422.15 32.09,424.45 30.48,423.30" fill="#b02cc4" opacity="0.38"/>
<polygon points="37.30,424.26 40.50,424.26 38.90,422.02" fill="#b02cc4" opacity="0.95"/>
<polygon points="34.29,421.35 34.29,423.65 32.68,422.50" fill="#b02cc4" opacity="0.38"/>
<polygon points="32.66,426.50 32.66,429.70 30.42,428.10" fill="#f07a1c" opacity="0.95"/>
<polygon points="34.56,428.40 34.56,431.60 32.32,430.00" fill="#e8202a" opacity="0.95"/>
<polygon points="25.66,434.80 25.66,438.00 23.42,436.40" fill="#1fa653" opacity="0.95"/>
<polygon points="24.60,436.54 27.80,436.54 26.20,438.78" fill="#1f35f0" opacity="0.95"/>
<polygon points="24.89,432.55 24.89,434.85 23.28,433.70" fill="#1fa653" opacity="0.38"/>
<polygon points="42.29,430.35 42.29,432.65 40.68,431.50" fill="#b02cc4" opacity="0.38"/>
<polygon points="41.70,436.16 44.90,436.16 43.30,433.92" fill="#b02cc4" opacity="0.95"/>
<polygon points="60.79,423.35 60.79,425.65 59.18,424.50" fill="#b02cc4" opacity="0.38"/>
<polygon points="26.29,439.85 26.29,442.15 24.68,441.00" fill="#1fa653" opacity="0.38"/>
<polygon points="26.29,442.65 26.29,444.95 24.68,443.80" fill="#b02cc4" opacity="0.38"/>
<polygon points="25.79,444.45 25.79,446.75 24.18,445.60" fill="#f07a1c" opacity="0.38"/>
<polygon points="23.99,429.95 23.99,432.25 22.38,431.10" fill="#1fa653" opacity="0.38"/>
<polygon points="32.69,439.15 32.69,441.45 31.08,440.30" fill="#b02cc4" opacity="0.38"/>
<polygon points="35.29,441.25 35.29,443.55 33.68,442.40" fill="#b02cc4" opacity="0.38"/>
<polygon points="38.76,439.10 38.76,442.30 36.52,440.70" fill="#f07a1c" opacity="0.95"/>
<polygon points="42.29,437.75 42.29,440.05 40.68,438.90" fill="#b02cc4" opacity="0.38"/>
<polygon points="41.99,429.95 41.99,432.25 40.38,431.10" fill="#b02cc4" opacity="0.38"/>
<polygon points="47.19,441.25 47.19,443.55 45.58,442.40" fill="#e8202a" opacity="0.38"/>
<polygon points="50.19,439.15 50.19,441.45 48.58,440.30" fill="#1fa653" opacity="0.38"/>
<polygon points="34.49,447.35 34.49,449.65 32.88,448.50" fill="#1fa653" opacity="0.38"/>
<polygon points="29.79,450.85 29.79,453.15 28.18,452.00" fill="#1fa653" opacity="0.38"/>
<polygon points="35.70,451.94 38.90,451.94 37.30,454.18" fill="#1f35f0" opacity="0.95"/>
<polygon points="38.60,453.64 41.80,453.64 40.20,455.88" fill="#1fa653" opacity="0.95"/>
<polygon points="35.29,454.85 35.29,457.15 33.68,456.00" fill="#1fa653" opacity="0.38"/>
<polygon points="34.49,456.95 34.49,459.25 32.88,458.10" fill="#f07a1c" opacity="0.38"/>
<polygon points="52.79,448.25 52.79,450.55 51.18,449.40" fill="#1f35f0" opacity="0.38"/>
<polygon points="57.36,440.80 57.36,444.00 55.12,442.40" fill="#e8202a" opacity="0.95"/>
<polygon points="63.59,441.65 63.59,443.95 61.98,442.80" fill="#b02cc4" opacity="0.38"/>
<polygon points="55.30,451.04 58.50,451.04 56.90,453.28" fill="#f07a1c" opacity="0.95"/>
<polygon points="59.39,453.85 59.39,456.15 57.78,455.00" fill="#1f35f0" opacity="0.38"/>
<polygon points="63.59,455.55 63.59,457.85 61.98,456.70" fill="#b02cc4" opacity="0.38"/>
<polygon points="67.59,456.05 67.59,458.35 65.98,457.20" fill="#b02cc4" opacity="0.38"/>
<polygon points="70.00,452.96 73.20,452.96 71.60,450.72" fill="#b02cc4" opacity="0.95"/>
<polygon points="63.39,441.85 63.39,444.15 61.78,443.00" fill="#1f35f0" opacity="0.38"/>
<polygon points="90.89,447.65 90.89,449.95 89.28,448.80" fill="#e8202a" opacity="0.38"/>
<polygon points="93.79,444.75 93.79,447.05 92.18,445.90" fill="#e8202a" opacity="0.38"/>
<polygon points="112.59,454.85 112.59,457.15 110.98,456.00" fill="#b02cc4" opacity="0.38"/>
<polygon points="112.59,456.65 112.59,458.95 110.98,457.80" fill="#f07a1c" opacity="0.38"/>
<polygon points="130.09,455.95 130.09,458.25 128.48,457.10" fill="#1fa653" opacity="0.38"/>
<polygon points="137.89,446.35 137.89,448.65 136.28,447.50" fill="#b02cc4" opacity="0.38"/>
<polygon points="143.09,456.65 143.09,458.95 141.48,457.80" fill="#1f35f0" opacity="0.38"/>
<rect x="24.00" y="420.60" width="2.2" height="1.8" fill="#2a2a2a"/>
<rect x="38.70" y="436.30" width="2.2" height="1.8" fill="#2a2a2a"/>
<rect x="58.50" y="448.00" width="2.2" height="1.8" fill="#2a2a2a"/>
<rect x="78.50" y="452.50" width="2.2" height="1.8" fill="#2a2a2a"/>
<rect x="119.8" y="341.20" width="2.6" height="1.6" fill="#fff"/>
<rect x="119.8" y="467.20" width="2.6" height="1.6" fill="#fff"/>
<text x="11.30" y="457.50" font-size="4.7" fill="#383838" text-anchor="end" textLength="4.60" lengthAdjust="spacingAndGlyphs" >50</text>
<line x1="12.5" y1="455.80" x2="13.7" y2="455.80" stroke="#aaa" stroke-width="0.5"/>
<line x1="148.3" y1="455.80" x2="149.5" y2="455.80" stroke="#ccc" stroke-width="0.5"/>
<text x="11.30" y="445.48" font-size="4.7" fill="#383838" text-anchor="end" textLength="4.60" lengthAdjust="spacingAndGlyphs" >60</text>
<line x1="12.5" y1="443.78" x2="13.7" y2="443.78" stroke="#aaa" stroke-width="0.5"/>
<line x1="148.3" y1="443.78" x2="149.5" y2="443.78" stroke="#ccc" stroke-width="0.5"/>
<text x="11.30" y="433.45" font-size="4.7" fill="#383838" text-anchor="end" textLength="4.60" lengthAdjust="spacingAndGlyphs" >70</text>
<line x1="12.5" y1="431.75" x2="13.7" y2="431.75" stroke="#aaa" stroke-width="0.5"/>
<line x1="148.3" y1="431.75" x2="149.5" y2="431.75" stroke="#ccc" stroke-width="0.5"/>
<text x="11.30" y="421.43" font-size="4.7" fill="#383838" text-anchor="end" textLength="4.60" lengthAdjust="spacingAndGlyphs" >80</text>
<line x1="12.5" y1="419.73" x2="13.7" y2="419.73" stroke="#aaa" stroke-width="0.5"/>
<line x1="148.3" y1="419.73" x2="149.5" y2="419.73" stroke="#ccc" stroke-width="0.5"/>
<text x="11.30" y="409.41" font-size="4.7" fill="#383838" text-anchor="end" textLength="4.60" lengthAdjust="spacingAndGlyphs" >90</text>
<line x1="12.5" y1="407.71" x2="13.7" y2="407.71" stroke="#aaa" stroke-width="0.5"/>
<line x1="148.3" y1="407.71" x2="149.5" y2="407.71" stroke="#ccc" stroke-width="0.5"/>
<text x="11.30" y="397.39" font-size="4.7" fill="#383838" text-anchor="end" textLength="6.30" lengthAdjust="spacingAndGlyphs" >100</text>
<line x1="12.5" y1="395.69" x2="13.7" y2="395.69" stroke="#aaa" stroke-width="0.5"/>
<line x1="148.3" y1="395.69" x2="149.5" y2="395.69" stroke="#ccc" stroke-width="0.5"/>
<text x="11.30" y="385.37" font-size="4.7" fill="#383838" text-anchor="end" textLength="6.30" lengthAdjust="spacingAndGlyphs" >110</text>
<line x1="12.5" y1="383.67" x2="13.7" y2="383.67" stroke="#aaa" stroke-width="0.5"/>
<line x1="148.3" y1="383.67" x2="149.5" y2="383.67" stroke="#ccc" stroke-width="0.5"/>
<text x="11.30" y="373.34" font-size="4.7" fill="#383838" text-anchor="end" textLength="6.30" lengthAdjust="spacingAndGlyphs" >120</text>
<line x1="12.5" y1="371.64" x2="13.7" y2="371.64" stroke="#aaa" stroke-width="0.5"/>
<line x1="148.3" y1="371.64" x2="149.5" y2="371.64" stroke="#ccc" stroke-width="0.5"/>
<text x="11.30" y="361.32" font-size="4.7" fill="#383838" text-anchor="end" textLength="6.30" lengthAdjust="spacingAndGlyphs" >130</text>
<line x1="12.5" y1="359.62" x2="13.7" y2="359.62" stroke="#aaa" stroke-width="0.5"/>
<line x1="148.3" y1="359.62" x2="149.5" y2="359.62" stroke="#ccc" stroke-width="0.5"/>
<text x="11.30" y="349.30" font-size="4.7" fill="#383838" text-anchor="end" textLength="6.30" lengthAdjust="spacingAndGlyphs" >140</text>
<line x1="12.5" y1="347.60" x2="13.7" y2="347.60" stroke="#aaa" stroke-width="0.5"/>
<line x1="148.3" y1="347.60" x2="149.5" y2="347.60" stroke="#ccc" stroke-width="0.5"/>
<text x="20.20" y="472.00" font-size="4.6" fill="#383838" text-anchor="middle" textLength="2.35" lengthAdjust="spacingAndGlyphs" >0</text>
<line x1="20.2" y1="468.0" x2="20.2" y2="466.8" stroke="#aaa" stroke-width="0.5"/>
<line x1="20.2" y1="342.0" x2="20.2" y2="343.2" stroke="#ccc" stroke-width="0.5"/>
<text x="30.00" y="472.00" font-size="4.6" fill="#383838" text-anchor="middle" textLength="4.70" lengthAdjust="spacingAndGlyphs" >50</text>
<line x1="30" y1="468.0" x2="30" y2="466.8" stroke="#aaa" stroke-width="0.5"/>
<line x1="30" y1="342.0" x2="30" y2="343.2" stroke="#ccc" stroke-width="0.5"/>
<text x="39.90" y="472.00" font-size="4.6" fill="#383838" text-anchor="middle" textLength="7.05" lengthAdjust="spacingAndGlyphs" >100</text>
<line x1="39.9" y1="468.0" x2="39.9" y2="466.8" stroke="#aaa" stroke-width="0.5"/>
<line x1="39.9" y1="342.0" x2="39.9" y2="343.2" stroke="#ccc" stroke-width="0.5"/>
<text x="50.00" y="472.00" font-size="4.6" fill="#383838" text-anchor="middle" textLength="7.05" lengthAdjust="spacingAndGlyphs" >150</text>
<line x1="50" y1="468.0" x2="50" y2="466.8" stroke="#aaa" stroke-width="0.5"/>
<line x1="50" y1="342.0" x2="50" y2="343.2" stroke="#ccc" stroke-width="0.5"/>
<text x="59.90" y="472.00" font-size="4.6" fill="#383838" text-anchor="middle" textLength="7.05" lengthAdjust="spacingAndGlyphs" >200</text>
<line x1="59.9" y1="468.0" x2="59.9" y2="466.8" stroke="#aaa" stroke-width="0.5"/>
<line x1="59.9" y1="342.0" x2="59.9" y2="343.2" stroke="#ccc" stroke-width="0.5"/>
<text x="69.80" y="472.00" font-size="4.6" fill="#383838" text-anchor="middle" textLength="7.05" lengthAdjust="spacingAndGlyphs" >250</text>
<line x1="69.8" y1="468.0" x2="69.8" y2="466.8" stroke="#aaa" stroke-width="0.5"/>
<line x1="69.8" y1="342.0" x2="69.8" y2="343.2" stroke="#ccc" stroke-width="0.5"/>
<text x="79.80" y="472.00" font-size="4.6" fill="#383838" text-anchor="middle" textLength="7.05" lengthAdjust="spacingAndGlyphs" >300</text>
<line x1="79.8" y1="468.0" x2="79.8" y2="466.8" stroke="#aaa" stroke-width="0.5"/>
<line x1="79.8" y1="342.0" x2="79.8" y2="343.2" stroke="#ccc" stroke-width="0.5"/>
<text x="89.60" y="472.00" font-size="4.6" fill="#383838" text-anchor="middle" textLength="7.05" lengthAdjust="spacingAndGlyphs" >350</text>
<line x1="89.6" y1="468.0" x2="89.6" y2="466.8" stroke="#aaa" stroke-width="0.5"/>
<line x1="89.6" y1="342.0" x2="89.6" y2="343.2" stroke="#ccc" stroke-width="0.5"/>
<text x="99.50" y="472.00" font-size="4.6" fill="#383838" text-anchor="middle" textLength="7.05" lengthAdjust="spacingAndGlyphs" >400</text>
<line x1="99.5" y1="468.0" x2="99.5" y2="466.8" stroke="#aaa" stroke-width="0.5"/>
<line x1="99.5" y1="342.0" x2="99.5" y2="343.2" stroke="#ccc" stroke-width="0.5"/>
<text x="109.30" y="472.00" font-size="4.6" fill="#383838" text-anchor="middle" textLength="7.05" lengthAdjust="spacingAndGlyphs" >450</text>
<line x1="109.3" y1="468.0" x2="109.3" y2="466.8" stroke="#aaa" stroke-width="0.5"/>
<line x1="109.3" y1="342.0" x2="109.3" y2="343.2" stroke="#ccc" stroke-width="0.5"/>
<text x="131.60" y="472.00" font-size="4.6" fill="#383838" text-anchor="middle" textLength="7.05" lengthAdjust="spacingAndGlyphs" >900</text>
<line x1="131.6" y1="468.0" x2="131.6" y2="466.8" stroke="#aaa" stroke-width="0.5"/>
<line x1="131.6" y1="342.0" x2="131.6" y2="343.2" stroke="#ccc" stroke-width="0.5"/>
<text x="141.00" y="472.00" font-size="4.6" fill="#383838" text-anchor="middle" textLength="9.40" lengthAdjust="spacingAndGlyphs" >1000</text>
<line x1="141" y1="468.0" x2="141" y2="466.8" stroke="#aaa" stroke-width="0.5"/>
<line x1="141" y1="342.0" x2="141" y2="343.2" stroke="#ccc" stroke-width="0.5"/>
<text x="51.50" y="476.40" font-size="5.0" fill="#222" text-anchor="start" textLength="29.10" lengthAdjust="spacingAndGlyphs" >US$2005/tCO2</text>
<text x="0" y="0" font-size="47" fill="#333" text-anchor="middle" textLength="524" lengthAdjust="spacingAndGlyphs" transform="translate(3.3,402.50) rotate(-90) scale(0.1)">2100 global mean SLR [cm]</text>
<text x="26.20" y="354.00" font-size="5.0" fill="#333" text-anchor="start" textLength="6.80" lengthAdjust="spacingAndGlyphs" >(e)</text>
<line x1="153.90" y1="447.90000000000003" x2="153.90" y2="458.1" stroke="#7a90cc" stroke-width="1.5"/>
<line x1="156.90" y1="431.6" x2="156.90" y2="449.3" stroke="#92e0d6" stroke-width="1.5"/>
<line x1="159.60" y1="419.6" x2="159.60" y2="431.5" stroke="#a2c4f0" stroke-width="1.5"/>
<line x1="162.30" y1="395.20000000000005" x2="162.30" y2="414.6" stroke="#f8bf95" stroke-width="1.5"/>
<line x1="165.10" y1="346.6" x2="165.10" y2="418.6" stroke="#f49a9a" stroke-width="1.5"/>
<rect x="153.40" y="462.80" width="1.4" height="5.50" fill="#999"/>
<rect x="153.40" y="463.25" width="1.4" height="0.4" fill="#fff" opacity="0.6"/>
<rect x="153.40" y="464.55" width="1.4" height="0.4" fill="#fff" opacity="0.6"/>
<rect x="153.40" y="465.85" width="1.4" height="0.4" fill="#fff" opacity="0.6"/>
<rect x="153.40" y="467.15" width="1.4" height="0.4" fill="#fff" opacity="0.6"/>
<rect x="156.40" y="462.80" width="1.4" height="5.50" fill="#999"/>
<rect x="156.40" y="463.25" width="1.4" height="0.4" fill="#fff" opacity="0.6"/>
<rect x="156.40" y="464.55" width="1.4" height="0.4" fill="#fff" opacity="0.6"/>
<rect x="156.40" y="465.85" width="1.4" height="0.4" fill="#fff" opacity="0.6"/>
<rect x="156.40" y="467.15" width="1.4" height="0.4" fill="#fff" opacity="0.6"/>
<rect x="159.10" y="462.80" width="1.4" height="5.50" fill="#999"/>
<rect x="159.10" y="463.25" width="1.4" height="0.4" fill="#fff" opacity="0.6"/>
<rect x="159.10" y="464.55" width="1.4" height="0.4" fill="#fff" opacity="0.6"/>
<rect x="159.10" y="465.85" width="1.4" height="0.4" fill="#fff" opacity="0.6"/>
<rect x="159.10" y="467.15" width="1.4" height="0.4" fill="#fff" opacity="0.6"/>
<rect x="161.80" y="462.80" width="1.4" height="5.50" fill="#999"/>
<rect x="161.80" y="463.25" width="1.4" height="0.4" fill="#fff" opacity="0.6"/>
<rect x="161.80" y="464.55" width="1.4" height="0.4" fill="#fff" opacity="0.6"/>
<rect x="161.80" y="465.85" width="1.4" height="0.4" fill="#fff" opacity="0.6"/>
<rect x="161.80" y="467.15" width="1.4" height="0.4" fill="#fff" opacity="0.6"/>
<rect x="164.60" y="457.60" width="1.4" height="10.70" fill="#999"/>
<rect x="164.60" y="458.05" width="1.4" height="0.4" fill="#fff" opacity="0.6"/>
<rect x="164.60" y="459.35" width="1.4" height="0.4" fill="#fff" opacity="0.6"/>
<rect x="164.60" y="460.65" width="1.4" height="0.4" fill="#fff" opacity="0.6"/>
<rect x="164.60" y="461.95" width="1.4" height="0.4" fill="#fff" opacity="0.6"/>
<rect x="164.60" y="463.25" width="1.4" height="0.4" fill="#fff" opacity="0.6"/>
<rect x="164.60" y="464.55" width="1.4" height="0.4" fill="#fff" opacity="0.6"/>
<rect x="164.60" y="465.85" width="1.4" height="0.4" fill="#fff" opacity="0.6"/>
<rect x="164.60" y="467.15" width="1.4" height="0.4" fill="#fff" opacity="0.6"/>
<text x="218.80" y="325.35" font-size="6.3" fill="#111" text-anchor="start" textLength="61.60" lengthAdjust="spacingAndGlyphs" >2050 carbon intensity</text>
<line x1="192.3" y1="327.5" x2="230.7" y2="327.5" stroke="#e09ce0" stroke-width="1.3"/>
<line x1="236.7" y1="330.0" x2="266.3" y2="330.0" stroke="#f8c09a" stroke-width="1.3"/>
<line x1="270.9" y1="332.6" x2="310.3" y2="332.6" stroke="#fa8282" stroke-width="1.3"/>
<line x1="228.7" y1="335.1" x2="266.5" y2="335.1" stroke="#7478f2" stroke-width="1.3"/>
<line x1="210.4" y1="337.70000000000005" x2="234.3" y2="337.70000000000005" stroke="#7cd4a0" stroke-width="1.3"/>
<text x="181.30" y="328.45" font-size="2.8" fill="#222" text-anchor="start" textLength="5.80" lengthAdjust="spacingAndGlyphs" >SSP5</text>
<text x="181.30" y="330.95" font-size="2.8" fill="#222" text-anchor="start" textLength="5.80" lengthAdjust="spacingAndGlyphs" >SSP4</text>
<text x="181.30" y="333.55" font-size="2.8" fill="#222" text-anchor="start" textLength="5.80" lengthAdjust="spacingAndGlyphs" >SSP3</text>
<text x="181.30" y="336.05" font-size="2.8" fill="#222" text-anchor="start" textLength="5.80" lengthAdjust="spacingAndGlyphs" >SSP2</text>
<text x="181.30" y="338.65" font-size="2.8" fill="#222" text-anchor="start" textLength="5.80" lengthAdjust="spacingAndGlyphs" >SSP1</text>
<line x1="215.8" y1="342.0" x2="215.8" y2="468.0" stroke="#e2e2e2" stroke-width="0.45" stroke-dasharray="0.8,1.2"/>
<line x1="246.3" y1="342.0" x2="246.3" y2="468.0" stroke="#e2e2e2" stroke-width="0.45" stroke-dasharray="0.8,1.2"/>
<line x1="277.6" y1="342.0" x2="277.6" y2="468.0" stroke="#e2e2e2" stroke-width="0.45" stroke-dasharray="0.8,1.2"/>
<rect x="181.6" y="342.0" width="136.9" height="126.0" fill="none" stroke="#d4d4d4" stroke-width="0.6"/>
<line x1="181.6" y1="342.0" x2="181.6" y2="468.0" stroke="#bdbdbd" stroke-width="0.8"/>
<line x1="181.6" y1="468.0" x2="318.5" y2="468.0" stroke="#bdbdbd" stroke-width="0.8"/>
<line x1="200.5" y1="400.4" x2="200.5" y2="455.0" stroke="#e3eaf5" stroke-width="1.4"/>
<rect x="199.20" y="422.6" width="2.6" height="30.50" fill="#b3c6e3"/>
<line x1="231.5" y1="359.1" x2="231.5" y2="457.5" stroke="#e3eaf5" stroke-width="1.4"/>
<rect x="230.20" y="412.2" width="2.6" height="36.60" fill="#b3c6e3"/>
<line x1="262.2" y1="381.2" x2="262.2" y2="445.1" stroke="#e3eaf5" stroke-width="1.4"/>
<rect x="260.90" y="401.7" width="2.6" height="25.90" fill="#b3c6e3"/>
<line x1="292.6" y1="384.9" x2="292.6" y2="440.0" stroke="#e3eaf5" stroke-width="1.4"/>
<rect x="291.30" y="390.9" width="2.6" height="37.10" fill="#b3c6e3"/>
<polygon points="222.00,355.52 225.40,355.52 223.70,353.14" fill="none" stroke="#b02cc4" stroke-width="0.4" opacity="0.22"/>
<polygon points="232.19,345.25 232.19,347.55 230.58,346.40" fill="#b02cc4" opacity="0.38"/>
<circle cx="222.00" cy="363.30" r="1.3" fill="none" stroke="#b02cc4" stroke-width="0.4" opacity="0.2"/>
<circle cx="226.60" cy="363.80" r="1.3" fill="none" stroke="#b02cc4" stroke-width="0.4" opacity="0.2"/>
<polygon points="216.49,393.15 216.49,395.45 214.88,394.30" fill="#b02cc4" opacity="0.38"/>
<polygon points="219.99,395.75 219.99,398.05 218.38,396.90" fill="#b02cc4" opacity="0.38"/>
<polygon points="213.40,403.06 216.60,403.06 215.00,400.82" fill="#b02cc4" opacity="0.95"/>
<polygon points="228.39,399.25 228.39,401.55 226.78,400.40" fill="#1fa653" opacity="0.38"/>
<polygon points="235.69,399.25 235.69,401.55 234.08,400.40" fill="#1fa653" opacity="0.38"/>
<polygon points="233.59,403.95 233.59,406.25 231.98,405.10" fill="#1fa653" opacity="0.38"/>
<polygon points="211.29,410.65 211.29,412.95 209.68,411.80" fill="#b02cc4" opacity="0.38"/>
<polygon points="212.69,418.05 212.69,420.35 211.08,419.20" fill="#b02cc4" opacity="0.38"/>
<polygon points="208.10,425.36 211.30,425.36 209.70,423.12" fill="#b02cc4" opacity="0.95"/>
<polygon points="208.69,424.65 208.69,426.95 207.08,425.80" fill="#b02cc4" opacity="0.38"/>
<polygon points="205.19,425.35 205.19,427.65 203.58,426.50" fill="#b02cc4" opacity="0.38"/>
<polygon points="206.09,431.05 206.09,433.35 204.48,432.20" fill="#b02cc4" opacity="0.38"/>
<polygon points="205.90,437.16 209.10,437.16 207.50,434.92" fill="#b02cc4" opacity="0.95"/>
<polygon points="202.29,439.25 202.29,441.55 200.68,440.40" fill="#b02cc4" opacity="0.38"/>
<polygon points="196.99,447.25 196.99,449.55 195.38,448.40" fill="#b02cc4" opacity="0.38"/>
<polygon points="202.90,453.26 206.10,453.26 204.50,451.02" fill="#b02cc4" opacity="0.95"/>
<polygon points="192.49,454.95 192.49,457.25 190.88,456.10" fill="#b02cc4" opacity="0.38"/>
<polygon points="233.09,403.75 233.09,406.05 231.48,404.90" fill="#1fa653" opacity="0.38"/>
<polygon points="230.09,418.35 230.09,420.65 228.48,419.50" fill="#1fa653" opacity="0.38"/>
<polygon points="226.09,419.45 226.09,421.75 224.48,420.60" fill="#1fa653" opacity="0.38"/>
<polygon points="229.36,425.40 229.36,428.60 227.12,427.00" fill="#1fa653" opacity="0.95"/>
<polygon points="227.29,430.55 227.29,432.85 225.68,431.70" fill="#1fa653" opacity="0.38"/>
<polygon points="225.16,435.90 225.16,439.10 222.92,437.50" fill="#1fa653" opacity="0.95"/>
<polygon points="220.39,440.35 220.39,442.65 218.78,441.50" fill="#1fa653" opacity="0.38"/>
<polygon points="223.49,441.05 223.49,443.35 221.88,442.20" fill="#1fa653" opacity="0.38"/>
<polygon points="220.39,447.95 220.39,450.25 218.78,449.10" fill="#1fa653" opacity="0.38"/>
<polygon points="214.20,454.44 217.40,454.44 215.80,456.68" fill="#1fa653" opacity="0.95"/>
<polygon points="210.99,455.45 210.99,457.75 209.38,456.60" fill="#1fa653" opacity="0.38"/>
<polygon points="251.26,423.70 251.26,426.90 249.02,425.30" fill="#1f35f0" opacity="0.95"/>
<polygon points="248.79,427.05 248.79,429.35 247.18,428.20" fill="#1f35f0" opacity="0.38"/>
<polygon points="247.59,430.55 247.59,432.85 245.98,431.70" fill="#1f35f0" opacity="0.38"/>
<polygon points="242.50,437.74 245.70,437.74 244.10,439.98" fill="#1f35f0" opacity="0.95"/>
<polygon points="241.79,441.05 241.79,443.35 240.18,442.20" fill="#1f35f0" opacity="0.38"/>
<polygon points="246.76,439.90 246.76,443.10 244.52,441.50" fill="#f07a1c" opacity="0.95"/>
<polygon points="249.99,444.45 249.99,446.75 248.38,445.60" fill="#f07a1c" opacity="0.38"/>
<polygon points="240.59,443.75 240.59,446.05 238.98,444.90" fill="#1f35f0" opacity="0.38"/>
<polygon points="234.29,448.55 234.29,450.85 232.68,449.70" fill="#1f35f0" opacity="0.38"/>
<polygon points="234.80,451.34 238.00,451.34 236.40,453.58" fill="#f07a1c" opacity="0.95"/>
<polygon points="233.10,453.04 236.30,453.04 234.70,455.28" fill="#1f35f0" opacity="0.95"/>
<polygon points="237.79,454.25 237.79,456.55 236.18,455.40" fill="#b02cc4" opacity="0.38"/>
<polygon points="238.79,457.25 238.79,459.55 237.18,458.40" fill="#f07a1c" opacity="0.38"/>
<polygon points="234.29,457.75 234.29,460.05 232.68,458.90" fill="#1f35f0" opacity="0.38"/>
<polygon points="227.30,456.54 230.50,456.54 228.90,458.78" fill="#1f35f0" opacity="0.95"/>
<circle cx="266.50" cy="381.20" r="1.3" fill="none" stroke="#1f35f0" stroke-width="0.4" opacity="0.2"/>
<circle cx="261.40" cy="387.70" r="1.3" fill="none" stroke="#1f35f0" stroke-width="0.4" opacity="0.2"/>
<polygon points="260.59,388.45 260.59,390.75 258.98,389.60" fill="#1f35f0" opacity="0.38"/>
<circle cx="265.90" cy="397.60" r="1.3" fill="none" stroke="#f07a1c" stroke-width="0.4" opacity="0.2"/>
<circle cx="257.10" cy="402.60" r="1.3" fill="none" stroke="#1f35f0" stroke-width="0.4" opacity="0.2"/>
<polygon points="253.10,408.06 256.30,408.06 254.70,405.82" fill="#1f35f0" opacity="0.95"/>
<polygon points="258.39,407.25 258.39,409.55 256.78,408.40" fill="#1f35f0" opacity="0.38"/>
<polygon points="261.10,409.16 264.30,409.16 262.70,406.92" fill="#f07a1c" opacity="0.95"/>
<polygon points="253.10,410.24 256.30,410.24 254.70,412.48" fill="#1f35f0" opacity="0.95"/>
<polygon points="264.39,412.25 264.39,414.55 262.78,413.40" fill="#f07a1c" opacity="0.38"/>
<polygon points="251.96,423.00 251.96,426.20 249.72,424.60" fill="#1f35f0" opacity="0.95"/>
<polygon points="248.49,426.85 248.49,429.15 246.88,428.00" fill="#1f35f0" opacity="0.38"/>
<polygon points="254.36,428.30 254.36,431.50 252.12,429.90" fill="#f07a1c" opacity="0.95"/>
<polygon points="259.09,426.85 259.09,429.15 257.48,428.00" fill="#f07a1c" opacity="0.38"/>
<polygon points="247.19,430.95 247.19,433.25 245.58,432.10" fill="#1f35f0" opacity="0.38"/>
<polygon points="246.86,439.80 246.86,443.00 244.62,441.40" fill="#f07a1c" opacity="0.95"/>
<polygon points="249.79,443.95 249.79,446.25 248.18,445.10" fill="#f07a1c" opacity="0.38"/>
<circle cx="310.30" cy="378.90" r="1.3" fill="none" stroke="#e8202a" stroke-width="0.4" opacity="0.2"/>
<circle cx="301.90" cy="387.70" r="1.3" fill="none" stroke="#e8202a" stroke-width="0.4" opacity="0.2"/>
<circle cx="303.20" cy="392.00" r="1.3" fill="none" stroke="#e8202a" stroke-width="0.4" opacity="0.2"/>
<polygon points="300.69,394.05 300.69,396.35 299.08,395.20" fill="#e8202a" opacity="0.38"/>
<polygon points="310.59,393.05 310.59,395.35 308.98,394.20" fill="#e8202a" opacity="0.38"/>
<polygon points="301.99,401.45 301.99,403.75 300.38,402.60" fill="#e8202a" opacity="0.38"/>
<polygon points="297.89,405.25 297.89,407.55 296.28,406.40" fill="#e8202a" opacity="0.38"/>
<polygon points="301.69,405.75 301.69,408.05 300.08,406.90" fill="#e8202a" opacity="0.38"/>
<polygon points="291.90,414.96 295.10,414.96 293.50,412.72" fill="#e8202a" opacity="0.95"/>
<polygon points="286.39,427.75 286.39,430.05 284.78,428.90" fill="#e8202a" opacity="0.38"/>
<polygon points="290.36,429.70 290.36,432.90 288.12,431.30" fill="#e8202a" opacity="0.95"/>
<polygon points="282.36,442.20 282.36,445.40 280.12,443.80" fill="#e8202a" opacity="0.95"/>
<polygon points="276.49,442.65 276.49,444.95 274.88,443.80" fill="#e8202a" opacity="0.38"/>
<polygon points="271.39,445.45 271.39,447.75 269.78,446.60" fill="#e8202a" opacity="0.38"/>
<polygon points="272.79,448.25 272.79,450.55 271.18,449.40" fill="#e8202a" opacity="0.38"/>
<rect x="199.40" y="436.00" width="2.2" height="1.8" fill="#2a2a2a"/>
<rect x="230.40" y="436.00" width="2.2" height="1.8" fill="#2a2a2a"/>
<rect x="261.10" y="410.30" width="2.2" height="1.8" fill="#2a2a2a"/>
<rect x="291.50" y="404.20" width="2.2" height="1.8" fill="#2a2a2a"/>
<text x="180.40" y="457.50" font-size="4.7" fill="#383838" text-anchor="end" textLength="4.60" lengthAdjust="spacingAndGlyphs" >50</text>
<line x1="181.6" y1="455.80" x2="182.79999999999998" y2="455.80" stroke="#aaa" stroke-width="0.5"/>
<line x1="317.3" y1="455.80" x2="318.5" y2="455.80" stroke="#ccc" stroke-width="0.5"/>
<text x="180.40" y="445.48" font-size="4.7" fill="#383838" text-anchor="end" textLength="4.60" lengthAdjust="spacingAndGlyphs" >60</text>
<line x1="181.6" y1="443.78" x2="182.79999999999998" y2="443.78" stroke="#aaa" stroke-width="0.5"/>
<line x1="317.3" y1="443.78" x2="318.5" y2="443.78" stroke="#ccc" stroke-width="0.5"/>
<text x="180.40" y="433.45" font-size="4.7" fill="#383838" text-anchor="end" textLength="4.60" lengthAdjust="spacingAndGlyphs" >70</text>
<line x1="181.6" y1="431.75" x2="182.79999999999998" y2="431.75" stroke="#aaa" stroke-width="0.5"/>
<line x1="317.3" y1="431.75" x2="318.5" y2="431.75" stroke="#ccc" stroke-width="0.5"/>
<text x="180.40" y="421.43" font-size="4.7" fill="#383838" text-anchor="end" textLength="4.60" lengthAdjust="spacingAndGlyphs" >80</text>
<line x1="181.6" y1="419.73" x2="182.79999999999998" y2="419.73" stroke="#aaa" stroke-width="0.5"/>
<line x1="317.3" y1="419.73" x2="318.5" y2="419.73" stroke="#ccc" stroke-width="0.5"/>
<text x="180.40" y="409.41" font-size="4.7" fill="#383838" text-anchor="end" textLength="4.60" lengthAdjust="spacingAndGlyphs" >90</text>
<line x1="181.6" y1="407.71" x2="182.79999999999998" y2="407.71" stroke="#aaa" stroke-width="0.5"/>
<line x1="317.3" y1="407.71" x2="318.5" y2="407.71" stroke="#ccc" stroke-width="0.5"/>
<text x="180.40" y="397.39" font-size="4.7" fill="#383838" text-anchor="end" textLength="6.30" lengthAdjust="spacingAndGlyphs" >100</text>
<line x1="181.6" y1="395.69" x2="182.79999999999998" y2="395.69" stroke="#aaa" stroke-width="0.5"/>
<line x1="317.3" y1="395.69" x2="318.5" y2="395.69" stroke="#ccc" stroke-width="0.5"/>
<text x="180.40" y="385.37" font-size="4.7" fill="#383838" text-anchor="end" textLength="6.30" lengthAdjust="spacingAndGlyphs" >110</text>
<line x1="181.6" y1="383.67" x2="182.79999999999998" y2="383.67" stroke="#aaa" stroke-width="0.5"/>
<line x1="317.3" y1="383.67" x2="318.5" y2="383.67" stroke="#ccc" stroke-width="0.5"/>
<text x="180.40" y="373.34" font-size="4.7" fill="#383838" text-anchor="end" textLength="6.30" lengthAdjust="spacingAndGlyphs" >120</text>
<line x1="181.6" y1="371.64" x2="182.79999999999998" y2="371.64" stroke="#aaa" stroke-width="0.5"/>
<line x1="317.3" y1="371.64" x2="318.5" y2="371.64" stroke="#ccc" stroke-width="0.5"/>
<text x="180.40" y="361.32" font-size="4.7" fill="#383838" text-anchor="end" textLength="6.30" lengthAdjust="spacingAndGlyphs" >130</text>
<line x1="181.6" y1="359.62" x2="182.79999999999998" y2="359.62" stroke="#aaa" stroke-width="0.5"/>
<line x1="317.3" y1="359.62" x2="318.5" y2="359.62" stroke="#ccc" stroke-width="0.5"/>
<text x="180.40" y="349.30" font-size="4.7" fill="#383838" text-anchor="end" textLength="6.30" lengthAdjust="spacingAndGlyphs" >140</text>
<line x1="181.6" y1="347.60" x2="182.79999999999998" y2="347.60" stroke="#aaa" stroke-width="0.5"/>
<line x1="317.3" y1="347.60" x2="318.5" y2="347.60" stroke="#ccc" stroke-width="0.5"/>
<text x="185.30" y="472.00" font-size="4.6" fill="#383838" text-anchor="middle" textLength="7.05" lengthAdjust="spacingAndGlyphs" >-50</text>
<line x1="185.3" y1="468.0" x2="185.3" y2="466.8" stroke="#aaa" stroke-width="0.5"/>
<line x1="185.3" y1="342.0" x2="185.3" y2="343.2" stroke="#ccc" stroke-width="0.5"/>
<text x="215.90" y="472.00" font-size="4.6" fill="#383838" text-anchor="middle" textLength="7.05" lengthAdjust="spacingAndGlyphs" >-35</text>
<line x1="215.9" y1="468.0" x2="215.9" y2="466.8" stroke="#aaa" stroke-width="0.5"/>
<line x1="215.9" y1="342.0" x2="215.9" y2="343.2" stroke="#ccc" stroke-width="0.5"/>
<text x="246.40" y="472.00" font-size="4.6" fill="#383838" text-anchor="middle" textLength="7.05" lengthAdjust="spacingAndGlyphs" >-20</text>
<line x1="246.4" y1="468.0" x2="246.4" y2="466.8" stroke="#aaa" stroke-width="0.5"/>
<line x1="246.4" y1="342.0" x2="246.4" y2="343.2" stroke="#ccc" stroke-width="0.5"/>
<text x="277.70" y="472.00" font-size="4.6" fill="#383838" text-anchor="middle" textLength="4.70" lengthAdjust="spacingAndGlyphs" >-5</text>
<line x1="277.7" y1="468.0" x2="277.7" y2="466.8" stroke="#aaa" stroke-width="0.5"/>
<line x1="277.7" y1="342.0" x2="277.7" y2="343.2" stroke="#ccc" stroke-width="0.5"/>
<text x="308.30" y="472.00" font-size="4.6" fill="#383838" text-anchor="middle" textLength="4.70" lengthAdjust="spacingAndGlyphs" >10</text>
<line x1="308.3" y1="468.0" x2="308.3" y2="466.8" stroke="#aaa" stroke-width="0.5"/>
<line x1="308.3" y1="342.0" x2="308.3" y2="343.2" stroke="#ccc" stroke-width="0.5"/>
<text x="222.00" y="476.00" font-size="5.0" fill="#222" text-anchor="start" textLength="55.70" lengthAdjust="spacingAndGlyphs" >% change from 2010 levels</text>
<text x="191.50" y="354.00" font-size="5.0" fill="#333" text-anchor="start" textLength="6.80" lengthAdjust="spacingAndGlyphs" >(f)</text>
<line x1="322.90" y1="447.90000000000003" x2="322.90" y2="458.1" stroke="#7a90cc" stroke-width="1.5"/>
<line x1="325.90" y1="431.6" x2="325.90" y2="449.3" stroke="#92e0d6" stroke-width="1.5"/>
<line x1="328.60" y1="419.6" x2="328.60" y2="431.5" stroke="#a2c4f0" stroke-width="1.5"/>
<line x1="331.30" y1="395.20000000000005" x2="331.30" y2="414.6" stroke="#f8bf95" stroke-width="1.5"/>
<line x1="334.10" y1="346.6" x2="334.10" y2="418.6" stroke="#f49a9a" stroke-width="1.5"/>
<rect x="322.40" y="462.80" width="1.4" height="5.50" fill="#999"/>
<rect x="322.40" y="463.25" width="1.4" height="0.4" fill="#fff" opacity="0.6"/>
<rect x="322.40" y="464.55" width="1.4" height="0.4" fill="#fff" opacity="0.6"/>
<rect x="322.40" y="465.85" width="1.4" height="0.4" fill="#fff" opacity="0.6"/>
<rect x="322.40" y="467.15" width="1.4" height="0.4" fill="#fff" opacity="0.6"/>
<rect x="325.40" y="462.80" width="1.4" height="5.50" fill="#999"/>
<rect x="325.40" y="463.25" width="1.4" height="0.4" fill="#fff" opacity="0.6"/>
<rect x="325.40" y="464.55" width="1.4" height="0.4" fill="#fff" opacity="0.6"/>
<rect x="325.40" y="465.85" width="1.4" height="0.4" fill="#fff" opacity="0.6"/>
<rect x="325.40" y="467.15" width="1.4" height="0.4" fill="#fff" opacity="0.6"/>
<rect x="328.10" y="462.80" width="1.4" height="5.50" fill="#999"/>
<rect x="328.10" y="463.25" width="1.4" height="0.4" fill="#fff" opacity="0.6"/>
<rect x="328.10" y="464.55" width="1.4" height="0.4" fill="#fff" opacity="0.6"/>
<rect x="328.10" y="465.85" width="1.4" height="0.4" fill="#fff" opacity="0.6"/>
<rect x="328.10" y="467.15" width="1.4" height="0.4" fill="#fff" opacity="0.6"/>
<rect x="330.80" y="462.80" width="1.4" height="5.50" fill="#999"/>
<rect x="330.80" y="463.25" width="1.4" height="0.4" fill="#fff" opacity="0.6"/>
<rect x="330.80" y="464.55" width="1.4" height="0.4" fill="#fff" opacity="0.6"/>
<rect x="330.80" y="465.85" width="1.4" height="0.4" fill="#fff" opacity="0.6"/>
<rect x="330.80" y="467.15" width="1.4" height="0.4" fill="#fff" opacity="0.6"/>
<rect x="333.60" y="457.60" width="1.4" height="10.70" fill="#999"/>
<rect x="333.60" y="458.05" width="1.4" height="0.4" fill="#fff" opacity="0.6"/>
<rect x="333.60" y="459.35" width="1.4" height="0.4" fill="#fff" opacity="0.6"/>
<rect x="333.60" y="460.65" width="1.4" height="0.4" fill="#fff" opacity="0.6"/>
<rect x="333.60" y="461.95" width="1.4" height="0.4" fill="#fff" opacity="0.6"/>
<rect x="333.60" y="463.25" width="1.4" height="0.4" fill="#fff" opacity="0.6"/>
<rect x="333.60" y="464.55" width="1.4" height="0.4" fill="#fff" opacity="0.6"/>
<rect x="333.60" y="465.85" width="1.4" height="0.4" fill="#fff" opacity="0.6"/>
<rect x="333.60" y="467.15" width="1.4" height="0.4" fill="#fff" opacity="0.6"/>
<polygon points="343.80,18.49 346.40,18.49 345.10,20.57" fill="#3cb46e" opacity="0.6"/>
<polygon points="347.70,18.49 350.30,18.49 349.00,20.57" fill="#3cb46e" opacity="0.6"/>
<text x="352.30" y="20.45" font-size="3.05" fill="#606060" text-anchor="start" textLength="25.90" lengthAdjust="spacingAndGlyphs" >AIM_CGE_SSP1_26</text>
<polygon points="346.01,22.39 346.01,24.99 343.93,23.69" fill="#3cb46e" opacity="0.6"/>
<polygon points="349.91,22.39 349.91,24.99 347.83,23.69" fill="#3cb46e" opacity="0.6"/>
<text x="352.30" y="24.74" font-size="3.05" fill="#606060" text-anchor="start" textLength="25.90" lengthAdjust="spacingAndGlyphs" >AIM_CGE_SSP1_34</text>
<polygon points="344.19,26.68 344.19,29.28 346.27,27.98" fill="#3cb46e" opacity="0.6"/>
<polygon points="348.09,26.68 348.09,29.28 350.17,27.98" fill="#3cb46e" opacity="0.6"/>
<text x="352.30" y="29.03" font-size="3.05" fill="#606060" text-anchor="start" textLength="25.90" lengthAdjust="spacingAndGlyphs" >AIM_CGE_SSP1_45</text>
<circle cx="345.10" cy="32.27" r="1.17" fill="none" stroke="#3cb46e" stroke-width="0.35" opacity="0.30"/>
<circle cx="349.00" cy="32.27" r="1.17" fill="none" stroke="#3cb46e" stroke-width="0.35" opacity="0.30"/>
<text x="352.30" y="33.32" font-size="3.05" fill="#606060" text-anchor="start" textLength="33.50" lengthAdjust="spacingAndGlyphs" >AIM_CGE_SSP1_Baseline</text>
<polygon points="343.80,35.65 346.40,35.65 345.10,37.73" fill="#3cb46e" opacity="0.6"/>
<polygon points="347.70,35.65 350.30,35.65 349.00,37.73" fill="#3cb46e" opacity="0.6"/>
<text x="352.30" y="37.61" font-size="3.05" fill="#606060" text-anchor="start" textLength="23.26" lengthAdjust="spacingAndGlyphs" >GCAM4_SSP1_26</text>
<polygon points="346.01,39.55 346.01,42.15 343.93,40.85" fill="#3cb46e" opacity="0.6"/>
<polygon points="349.91,39.55 349.91,42.15 347.83,40.85" fill="#3cb46e" opacity="0.6"/>
<text x="352.30" y="41.90" font-size="3.05" fill="#606060" text-anchor="start" textLength="23.26" lengthAdjust="spacingAndGlyphs" >GCAM4_SSP1_34</text>
<polygon points="344.19,43.84 344.19,46.44 346.27,45.14" fill="#3cb46e" opacity="0.6"/>
<polygon points="348.09,43.84 348.09,46.44 350.17,45.14" fill="#3cb46e" opacity="0.6"/>
<text x="352.30" y="46.19" font-size="3.05" fill="#606060" text-anchor="start" textLength="23.26" lengthAdjust="spacingAndGlyphs" >GCAM4_SSP1_45</text>
<circle cx="345.10" cy="49.43" r="1.17" fill="none" stroke="#3cb46e" stroke-width="0.35" opacity="0.30"/>
<circle cx="349.00" cy="49.43" r="1.17" fill="none" stroke="#3cb46e" stroke-width="0.35" opacity="0.30"/>
<text x="352.30" y="50.48" font-size="3.05" fill="#606060" text-anchor="start" textLength="30.86" lengthAdjust="spacingAndGlyphs" >GCAM4_SSP1_Baseline</text>
<polygon points="343.40,52.53 346.80,52.53 345.10,55.25" fill="#3cb46e" opacity="0.95"/>
<polygon points="347.30,52.53 350.70,52.53 349.00,55.25" fill="#3cb46e" opacity="0.95"/>
<text x="352.30" y="54.77" font-size="3.05" fill="#606060" text-anchor="start" textLength="22.33" lengthAdjust="spacingAndGlyphs" >IMAGE_SSP1_26</text>
<polygon points="346.29,56.31 346.29,59.71 343.57,58.01" fill="#3cb46e" opacity="0.95"/>
<polygon points="350.19,56.31 350.19,59.71 347.47,58.01" fill="#3cb46e" opacity="0.95"/>
<text x="352.30" y="59.06" font-size="3.05" fill="#606060" text-anchor="start" textLength="22.33" lengthAdjust="spacingAndGlyphs" >IMAGE_SSP1_34</text>
<polygon points="343.91,60.60 343.91,64.00 346.63,62.30" fill="#3cb46e" opacity="0.95"/>
<polygon points="347.81,60.60 347.81,64.00 350.53,62.30" fill="#3cb46e" opacity="0.95"/>
<text x="352.30" y="63.35" font-size="3.05" fill="#606060" text-anchor="start" textLength="22.33" lengthAdjust="spacingAndGlyphs" >IMAGE_SSP1_45</text>
<circle cx="345.10" cy="66.59" r="1.53" fill="none" stroke="#3cb46e" stroke-width="0.35" opacity="0.47"/>
<circle cx="349.00" cy="66.59" r="1.53" fill="none" stroke="#3cb46e" stroke-width="0.35" opacity="0.47"/>
<text x="352.30" y="67.64" font-size="3.05" fill="#606060" text-anchor="start" textLength="29.93" lengthAdjust="spacingAndGlyphs" >IMAGE_SSP1_Baseline</text>
<polygon points="343.80,69.97 346.40,69.97 345.10,72.05" fill="#3cb46e" opacity="0.6"/>
<polygon points="347.70,69.97 350.30,69.97 349.00,72.05" fill="#3cb46e" opacity="0.6"/>
<text x="352.30" y="71.93" font-size="3.05" fill="#606060" text-anchor="start" textLength="41.71" lengthAdjust="spacingAndGlyphs" >MESSAGE_GLOBIOM_SSP1_26</text>
<polygon points="346.01,73.87 346.01,76.47 343.93,75.17" fill="#3cb46e" opacity="0.6"/>
<polygon points="349.91,73.87 349.91,76.47 347.83,75.17" fill="#3cb46e" opacity="0.6"/>
<text x="352.30" y="76.22" font-size="3.05" fill="#606060" text-anchor="start" textLength="41.71" lengthAdjust="spacingAndGlyphs" >MESSAGE_GLOBIOM_SSP1_34</text>
<polygon points="344.19,78.16 344.19,80.76 346.27,79.46" fill="#3cb46e" opacity="0.6"/>
<polygon points="348.09,78.16 348.09,80.76 350.17,79.46" fill="#3cb46e" opacity="0.6"/>
<text x="352.30" y="80.51" font-size="3.05" fill="#606060" text-anchor="start" textLength="41.71" lengthAdjust="spacingAndGlyphs" >MESSAGE_GLOBIOM_SSP1_45</text>
<circle cx="345.10" cy="83.75" r="1.17" fill="none" stroke="#3cb46e" stroke-width="0.35" opacity="0.30"/>
<circle cx="349.00" cy="83.75" r="1.17" fill="none" stroke="#3cb46e" stroke-width="0.35" opacity="0.30"/>
<text x="352.30" y="84.80" font-size="3.05" fill="#606060" text-anchor="start" textLength="49.31" lengthAdjust="spacingAndGlyphs" >MESSAGE_GLOBIOM_SSP1_Baseline</text>
<polygon points="343.80,87.13 346.40,87.13 345.10,89.21" fill="#3cb46e" opacity="0.6"/>
<polygon points="347.70,87.13 350.30,87.13 349.00,89.21" fill="#3cb46e" opacity="0.6"/>
<text x="352.30" y="89.09" font-size="3.05" fill="#606060" text-anchor="start" textLength="36.75" lengthAdjust="spacingAndGlyphs" >REMIND_MAGPIE_SSP1_26</text>
<polygon points="346.01,91.03 346.01,93.63 343.93,92.33" fill="#3cb46e" opacity="0.6"/>
<polygon points="349.91,91.03 349.91,93.63 347.83,92.33" fill="#3cb46e" opacity="0.6"/>
<text x="352.30" y="93.38" font-size="3.05" fill="#606060" text-anchor="start" textLength="36.75" lengthAdjust="spacingAndGlyphs" >REMIND_MAGPIE_SSP1_34</text>
<polygon points="344.19,95.32 344.19,97.92 346.27,96.62" fill="#3cb46e" opacity="0.6"/>
<polygon points="348.09,95.32 348.09,97.92 350.17,96.62" fill="#3cb46e" opacity="0.6"/>
<text x="352.30" y="97.67" font-size="3.05" fill="#606060" text-anchor="start" textLength="36.75" lengthAdjust="spacingAndGlyphs" >REMIND_MAGPIE_SSP1_45</text>
<circle cx="345.10" cy="100.91" r="1.17" fill="none" stroke="#3cb46e" stroke-width="0.35" opacity="0.30"/>
<circle cx="349.00" cy="100.91" r="1.17" fill="none" stroke="#3cb46e" stroke-width="0.35" opacity="0.30"/>
<text x="352.30" y="101.96" font-size="3.05" fill="#606060" text-anchor="start" textLength="44.35" lengthAdjust="spacingAndGlyphs" >REMIND_MAGPIE_SSP1_Baseline</text>
<polygon points="343.80,104.29 346.40,104.29 345.10,106.37" fill="#3cb46e" opacity="0.6"/>
<polygon points="347.70,104.29 350.30,104.29 349.00,106.37" fill="#3cb46e" opacity="0.6"/>
<text x="352.30" y="106.25" font-size="3.05" fill="#606060" text-anchor="start" textLength="37.06" lengthAdjust="spacingAndGlyphs" >WITCH_GLOBIOM_SSP1_26</text>
<polygon points="346.01,108.19 346.01,110.79 343.93,109.49" fill="#3cb46e" opacity="0.6"/>
<polygon points="349.91,108.19 349.91,110.79 347.83,109.49" fill="#3cb46e" opacity="0.6"/>
<text x="352.30" y="110.54" font-size="3.05" fill="#606060" text-anchor="start" textLength="37.06" lengthAdjust="spacingAndGlyphs" >WITCH_GLOBIOM_SSP1_34</text>
<polygon points="344.19,112.48 344.19,115.08 346.27,113.78" fill="#3cb46e" opacity="0.6"/>
<polygon points="348.09,112.48 348.09,115.08 350.17,113.78" fill="#3cb46e" opacity="0.6"/>
<text x="352.30" y="114.83" font-size="3.05" fill="#606060" text-anchor="start" textLength="37.06" lengthAdjust="spacingAndGlyphs" >WITCH_GLOBIOM_SSP1_45</text>
<polygon points="343.80,118.98 346.40,118.98 345.10,116.90" fill="#3cb46e" opacity="0.6"/>
<polygon points="347.70,118.98 350.30,118.98 349.00,116.90" fill="#3cb46e" opacity="0.6"/>
<text x="352.30" y="119.12" font-size="3.05" fill="#606060" text-anchor="start" textLength="37.06" lengthAdjust="spacingAndGlyphs" >WITCH_GLOBIOM_SSP1_60</text>
<circle cx="345.10" cy="122.36" r="1.17" fill="none" stroke="#3cb46e" stroke-width="0.35" opacity="0.30"/>
<circle cx="349.00" cy="122.36" r="1.17" fill="none" stroke="#3cb46e" stroke-width="0.35" opacity="0.30"/>
<text x="352.30" y="123.41" font-size="3.05" fill="#606060" text-anchor="start" textLength="44.66" lengthAdjust="spacingAndGlyphs" >WITCH_GLOBIOM_SSP1_Baseline</text>
<polygon points="343.80,125.74 346.40,125.74 345.10,127.82" fill="#4050e8" opacity="0.6"/>
<polygon points="347.70,125.74 350.30,125.74 349.00,127.82" fill="#4050e8" opacity="0.6"/>
<text x="352.30" y="127.70" font-size="3.05" fill="#606060" text-anchor="start" textLength="25.90" lengthAdjust="spacingAndGlyphs" >AIM_CGE_SSP2_26</text>
<polygon points="346.01,129.64 346.01,132.24 343.93,130.94" fill="#4050e8" opacity="0.6"/>
<polygon points="349.91,129.64 349.91,132.24 347.83,130.94" fill="#4050e8" opacity="0.6"/>
<text x="352.30" y="131.99" font-size="3.05" fill="#606060" text-anchor="start" textLength="25.90" lengthAdjust="spacingAndGlyphs" >AIM_CGE_SSP2_34</text>
<polygon points="344.19,133.93 344.19,136.53 346.27,135.23" fill="#4050e8" opacity="0.6"/>
<polygon points="348.09,133.93 348.09,136.53 350.17,135.23" fill="#4050e8" opacity="0.6"/>
<text x="352.30" y="136.28" font-size="3.05" fill="#606060" text-anchor="start" textLength="25.90" lengthAdjust="spacingAndGlyphs" >AIM_CGE_SSP2_45</text>
<polygon points="343.80,140.43 346.40,140.43 345.10,138.35" fill="#4050e8" opacity="0.6"/>
<polygon points="347.70,140.43 350.30,140.43 349.00,138.35" fill="#4050e8" opacity="0.6"/>
<text x="352.30" y="140.57" font-size="3.05" fill="#606060" text-anchor="start" textLength="25.90" lengthAdjust="spacingAndGlyphs" >AIM_CGE_SSP2_60</text>
<circle cx="345.10" cy="143.81" r="1.17" fill="none" stroke="#4050e8" stroke-width="0.35" opacity="0.30"/>
<circle cx="349.00" cy="143.81" r="1.17" fill="none" stroke="#4050e8" stroke-width="0.35" opacity="0.30"/>
<text x="352.30" y="144.86" font-size="3.05" fill="#606060" text-anchor="start" textLength="33.50" lengthAdjust="spacingAndGlyphs" >AIM_CGE_SSP2_Baseline</text>
<polygon points="343.80,147.19 346.40,147.19 345.10,149.27" fill="#4050e8" opacity="0.6"/>
<polygon points="347.70,147.19 350.30,147.19 349.00,149.27" fill="#4050e8" opacity="0.6"/>
<text x="352.30" y="149.15" font-size="3.05" fill="#606060" text-anchor="start" textLength="23.26" lengthAdjust="spacingAndGlyphs" >GCAM4_SSP2_26</text>
<polygon points="346.01,151.09 346.01,153.69 343.93,152.39" fill="#4050e8" opacity="0.6"/>
<polygon points="349.91,151.09 349.91,153.69 347.83,152.39" fill="#4050e8" opacity="0.6"/>
<text x="352.30" y="153.44" font-size="3.05" fill="#606060" text-anchor="start" textLength="23.26" lengthAdjust="spacingAndGlyphs" >GCAM4_SSP2_34</text>
<polygon points="344.19,155.38 344.19,157.98 346.27,156.68" fill="#4050e8" opacity="0.6"/>
<polygon points="348.09,155.38 348.09,157.98 350.17,156.68" fill="#4050e8" opacity="0.6"/>
<text x="352.30" y="157.73" font-size="3.05" fill="#606060" text-anchor="start" textLength="23.26" lengthAdjust="spacingAndGlyphs" >GCAM4_SSP2_45</text>
<polygon points="343.80,161.88 346.40,161.88 345.10,159.80" fill="#4050e8" opacity="0.6"/>
<polygon points="347.70,161.88 350.30,161.88 349.00,159.80" fill="#4050e8" opacity="0.6"/>
<text x="352.30" y="162.02" font-size="3.05" fill="#606060" text-anchor="start" textLength="23.26" lengthAdjust="spacingAndGlyphs" >GCAM4_SSP2_60</text>
<circle cx="345.10" cy="165.26" r="1.17" fill="none" stroke="#4050e8" stroke-width="0.35" opacity="0.30"/>
<circle cx="349.00" cy="165.26" r="1.17" fill="none" stroke="#4050e8" stroke-width="0.35" opacity="0.30"/>
<text x="352.30" y="166.31" font-size="3.05" fill="#606060" text-anchor="start" textLength="30.86" lengthAdjust="spacingAndGlyphs" >GCAM4_SSP2_Baseline</text>
<polygon points="343.80,168.64 346.40,168.64 345.10,170.72" fill="#4050e8" opacity="0.6"/>
<polygon points="347.70,168.64 350.30,168.64 349.00,170.72" fill="#4050e8" opacity="0.6"/>
<text x="352.30" y="170.60" font-size="3.05" fill="#606060" text-anchor="start" textLength="22.33" lengthAdjust="spacingAndGlyphs" >IMAGE_SSP2_26</text>
<polygon points="346.01,172.54 346.01,175.14 343.93,173.84" fill="#4050e8" opacity="0.6"/>
<polygon points="349.91,172.54 349.91,175.14 347.83,173.84" fill="#4050e8" opacity="0.6"/>
<text x="352.30" y="174.89" font-size="3.05" fill="#606060" text-anchor="start" textLength="22.33" lengthAdjust="spacingAndGlyphs" >IMAGE_SSP2_34</text>
<polygon points="344.19,176.83 344.19,179.43 346.27,178.13" fill="#4050e8" opacity="0.6"/>
<polygon points="348.09,176.83 348.09,179.43 350.17,178.13" fill="#4050e8" opacity="0.6"/>
<text x="352.30" y="179.18" font-size="3.05" fill="#606060" text-anchor="start" textLength="22.33" lengthAdjust="spacingAndGlyphs" >IMAGE_SSP2_45</text>
<polygon points="343.80,183.33 346.40,183.33 345.10,181.25" fill="#4050e8" opacity="0.6"/>
<polygon points="347.70,183.33 350.30,183.33 349.00,181.25" fill="#4050e8" opacity="0.6"/>
<text x="352.30" y="183.47" font-size="3.05" fill="#606060" text-anchor="start" textLength="22.33" lengthAdjust="spacingAndGlyphs" >IMAGE_SSP2_60</text>
<circle cx="345.10" cy="186.71" r="1.17" fill="none" stroke="#4050e8" stroke-width="0.35" opacity="0.30"/>
<circle cx="349.00" cy="186.71" r="1.17" fill="none" stroke="#4050e8" stroke-width="0.35" opacity="0.30"/>
<text x="352.30" y="187.76" font-size="3.05" fill="#606060" text-anchor="start" textLength="29.93" lengthAdjust="spacingAndGlyphs" >IMAGE_SSP2_Baseline</text>
<polygon points="343.40,189.81 346.80,189.81 345.10,192.53" fill="#4050e8" opacity="0.95"/>
<polygon points="347.30,189.81 350.70,189.81 349.00,192.53" fill="#4050e8" opacity="0.95"/>
<text x="352.30" y="192.05" font-size="3.05" fill="#606060" text-anchor="start" textLength="41.71" lengthAdjust="spacingAndGlyphs" >MESSAGE_GLOBIOM_SSP2_26</text>
<polygon points="346.29,193.59 346.29,196.99 343.57,195.29" fill="#4050e8" opacity="0.95"/>
<polygon points="350.19,193.59 350.19,196.99 347.47,195.29" fill="#4050e8" opacity="0.95"/>
<text x="352.30" y="196.34" font-size="3.05" fill="#606060" text-anchor="start" textLength="41.71" lengthAdjust="spacingAndGlyphs" >MESSAGE_GLOBIOM_SSP2_34</text>
<polygon points="343.91,197.88 343.91,201.28 346.63,199.58" fill="#4050e8" opacity="0.95"/>
<polygon points="347.81,197.88 347.81,201.28 350.53,199.58" fill="#4050e8" opacity="0.95"/>
<text x="352.30" y="200.63" font-size="3.05" fill="#606060" text-anchor="start" textLength="41.71" lengthAdjust="spacingAndGlyphs" >MESSAGE_GLOBIOM_SSP2_45</text>
<polygon points="343.40,205.06 346.80,205.06 345.10,202.34" fill="#4050e8" opacity="0.95"/>
<polygon points="347.30,205.06 350.70,205.06 349.00,202.34" fill="#4050e8" opacity="0.95"/>
<text x="352.30" y="204.92" font-size="3.05" fill="#606060" text-anchor="start" textLength="41.71" lengthAdjust="spacingAndGlyphs" >MESSAGE_GLOBIOM_SSP2_60</text>
<circle cx="345.10" cy="208.16" r="1.53" fill="none" stroke="#4050e8" stroke-width="0.35" opacity="0.47"/>
<circle cx="349.00" cy="208.16" r="1.53" fill="none" stroke="#4050e8" stroke-width="0.35" opacity="0.47"/>
<text x="352.30" y="209.21" font-size="3.05" fill="#606060" text-anchor="start" textLength="49.31" lengthAdjust="spacingAndGlyphs" >MESSAGE_GLOBIOM_SSP2_Baseline</text>
<polygon points="343.80,211.54 346.40,211.54 345.10,213.62" fill="#4050e8" opacity="0.6"/>
<polygon points="347.70,211.54 350.30,211.54 349.00,213.62" fill="#4050e8" opacity="0.6"/>
<text x="352.30" y="213.50" font-size="3.05" fill="#606060" text-anchor="start" textLength="36.75" lengthAdjust="spacingAndGlyphs" >REMIND_MAGPIE_SSP2_26</text>
<polygon points="346.01,215.44 346.01,218.04 343.93,216.74" fill="#4050e8" opacity="0.6"/>
<polygon points="349.91,215.44 349.91,218.04 347.83,216.74" fill="#4050e8" opacity="0.6"/>
<text x="352.30" y="217.79" font-size="3.05" fill="#606060" text-anchor="start" textLength="36.75" lengthAdjust="spacingAndGlyphs" >REMIND_MAGPIE_SSP2_34</text>
<polygon points="344.19,219.73 344.19,222.33 346.27,221.03" fill="#4050e8" opacity="0.6"/>
<polygon points="348.09,219.73 348.09,222.33 350.17,221.03" fill="#4050e8" opacity="0.6"/>
<text x="352.30" y="222.08" font-size="3.05" fill="#606060" text-anchor="start" textLength="36.75" lengthAdjust="spacingAndGlyphs" >REMIND_MAGPIE_SSP2_45</text>
<polygon points="343.80,226.23 346.40,226.23 345.10,224.15" fill="#4050e8" opacity="0.6"/>
<polygon points="347.70,226.23 350.30,226.23 349.00,224.15" fill="#4050e8" opacity="0.6"/>
<text x="352.30" y="226.37" font-size="3.05" fill="#606060" text-anchor="start" textLength="36.75" lengthAdjust="spacingAndGlyphs" >REMIND_MAGPIE_SSP2_60</text>
<circle cx="345.10" cy="229.61" r="1.17" fill="none" stroke="#4050e8" stroke-width="0.35" opacity="0.30"/>
<circle cx="349.00" cy="229.61" r="1.17" fill="none" stroke="#4050e8" stroke-width="0.35" opacity="0.30"/>
<text x="352.30" y="230.66" font-size="3.05" fill="#606060" text-anchor="start" textLength="44.35" lengthAdjust="spacingAndGlyphs" >REMIND_MAGPIE_SSP2_Baseline</text>
<polygon points="343.80,232.99 346.40,232.99 345.10,235.07" fill="#4050e8" opacity="0.6"/>
<polygon points="347.70,232.99 350.30,232.99 349.00,235.07" fill="#4050e8" opacity="0.6"/>
<text x="352.30" y="234.95" font-size="3.05" fill="#606060" text-anchor="start" textLength="37.06" lengthAdjust="spacingAndGlyphs" >WITCH_GLOBIOM_SSP2_26</text>
<polygon points="346.01,236.89 346.01,239.49 343.93,238.19" fill="#4050e8" opacity="0.6"/>
<polygon points="349.91,236.89 349.91,239.49 347.83,238.19" fill="#4050e8" opacity="0.6"/>
<text x="352.30" y="239.24" font-size="3.05" fill="#606060" text-anchor="start" textLength="37.06" lengthAdjust="spacingAndGlyphs" >WITCH_GLOBIOM_SSP2_34</text>
<polygon points="344.19,241.18 344.19,243.78 346.27,242.48" fill="#4050e8" opacity="0.6"/>
<polygon points="348.09,241.18 348.09,243.78 350.17,242.48" fill="#4050e8" opacity="0.6"/>
<text x="352.30" y="243.53" font-size="3.05" fill="#606060" text-anchor="start" textLength="37.06" lengthAdjust="spacingAndGlyphs" >WITCH_GLOBIOM_SSP2_45</text>
<polygon points="343.80,247.68 346.40,247.68 345.10,245.60" fill="#4050e8" opacity="0.6"/>
<polygon points="347.70,247.68 350.30,247.68 349.00,245.60" fill="#4050e8" opacity="0.6"/>
<text x="352.30" y="247.82" font-size="3.05" fill="#606060" text-anchor="start" textLength="37.06" lengthAdjust="spacingAndGlyphs" >WITCH_GLOBIOM_SSP2_60</text>
<circle cx="345.10" cy="251.06" r="1.17" fill="none" stroke="#4050e8" stroke-width="0.35" opacity="0.30"/>
<circle cx="349.00" cy="251.06" r="1.17" fill="none" stroke="#4050e8" stroke-width="0.35" opacity="0.30"/>
<text x="352.30" y="252.11" font-size="3.05" fill="#606060" text-anchor="start" textLength="44.66" lengthAdjust="spacingAndGlyphs" >WITCH_GLOBIOM_SSP2_Baseline</text>
<polygon points="346.29,253.65 346.29,257.05 343.57,255.35" fill="#e84040" opacity="0.95"/>
<polygon points="350.19,253.65 350.19,257.05 347.47,255.35" fill="#e84040" opacity="0.95"/>
<text x="352.30" y="256.40" font-size="3.05" fill="#606060" text-anchor="start" textLength="25.90" lengthAdjust="spacingAndGlyphs" >AIM_CGE_SSP3_34</text>
<polygon points="343.91,257.94 343.91,261.34 346.63,259.64" fill="#e84040" opacity="0.95"/>
<polygon points="347.81,257.94 347.81,261.34 350.53,259.64" fill="#e84040" opacity="0.95"/>
<text x="352.30" y="260.69" font-size="3.05" fill="#606060" text-anchor="start" textLength="25.90" lengthAdjust="spacingAndGlyphs" >AIM_CGE_SSP3_45</text>
<polygon points="343.40,265.12 346.80,265.12 345.10,262.40" fill="#e84040" opacity="0.95"/>
<polygon points="347.30,265.12 350.70,265.12 349.00,262.40" fill="#e84040" opacity="0.95"/>
<text x="352.30" y="264.98" font-size="3.05" fill="#606060" text-anchor="start" textLength="25.90" lengthAdjust="spacingAndGlyphs" >AIM_CGE_SSP3_60</text>
<circle cx="345.10" cy="268.22" r="1.53" fill="none" stroke="#e84040" stroke-width="0.35" opacity="0.47"/>
<circle cx="349.00" cy="268.22" r="1.53" fill="none" stroke="#e84040" stroke-width="0.35" opacity="0.47"/>
<text x="352.30" y="269.27" font-size="3.05" fill="#606060" text-anchor="start" textLength="33.50" lengthAdjust="spacingAndGlyphs" >AIM_CGE_SSP3_Baseline</text>
<circle cx="345.10" cy="272.51" r="1.17" fill="none" stroke="#e84040" stroke-width="0.35" opacity="0.30"/>
<circle cx="349.00" cy="272.51" r="1.17" fill="none" stroke="#e84040" stroke-width="0.35" opacity="0.30"/>
<text x="352.30" y="273.56" font-size="3.05" fill="#606060" text-anchor="start" textLength="30.86" lengthAdjust="spacingAndGlyphs" >GCAM4_SSP3_Baseline</text>
<polygon points="346.01,275.50 346.01,278.10 343.93,276.80" fill="#e84040" opacity="0.6"/>
<polygon points="349.91,275.50 349.91,278.10 347.83,276.80" fill="#e84040" opacity="0.6"/>
<text x="352.30" y="277.85" font-size="3.05" fill="#606060" text-anchor="start" textLength="22.33" lengthAdjust="spacingAndGlyphs" >IMAGE_SSP3_34</text>
<polygon points="344.19,279.79 344.19,282.39 346.27,281.09" fill="#e84040" opacity="0.6"/>
<polygon points="348.09,279.79 348.09,282.39 350.17,281.09" fill="#e84040" opacity="0.6"/>
<text x="352.30" y="282.14" font-size="3.05" fill="#606060" text-anchor="start" textLength="22.33" lengthAdjust="spacingAndGlyphs" >IMAGE_SSP3_45</text>
<polygon points="343.80,286.29 346.40,286.29 345.10,284.21" fill="#e84040" opacity="0.6"/>
<polygon points="347.70,286.29 350.30,286.29 349.00,284.21" fill="#e84040" opacity="0.6"/>
<text x="352.30" y="286.43" font-size="3.05" fill="#606060" text-anchor="start" textLength="22.33" lengthAdjust="spacingAndGlyphs" >IMAGE_SSP3_60</text>
<circle cx="345.10" cy="289.67" r="1.17" fill="none" stroke="#e84040" stroke-width="0.35" opacity="0.30"/>
<circle cx="349.00" cy="289.67" r="1.17" fill="none" stroke="#e84040" stroke-width="0.35" opacity="0.30"/>
<text x="352.30" y="290.72" font-size="3.05" fill="#606060" text-anchor="start" textLength="29.93" lengthAdjust="spacingAndGlyphs" >IMAGE_SSP3_Baseline</text>
<polygon points="346.01,292.66 346.01,295.26 343.93,293.96" fill="#e84040" opacity="0.6"/>
<polygon points="349.91,292.66 349.91,295.26 347.83,293.96" fill="#e84040" opacity="0.6"/>
<text x="352.30" y="295.01" font-size="3.05" fill="#606060" text-anchor="start" textLength="41.71" lengthAdjust="spacingAndGlyphs" >MESSAGE_GLOBIOM_SSP3_34</text>
<polygon points="344.19,296.95 344.19,299.55 346.27,298.25" fill="#e84040" opacity="0.6"/>
<polygon points="348.09,296.95 348.09,299.55 350.17,298.25" fill="#e84040" opacity="0.6"/>
<text x="352.30" y="299.30" font-size="3.05" fill="#606060" text-anchor="start" textLength="41.71" lengthAdjust="spacingAndGlyphs" >MESSAGE_GLOBIOM_SSP3_45</text>
<polygon points="343.80,303.45 346.40,303.45 345.10,301.37" fill="#e84040" opacity="0.6"/>
<polygon points="347.70,303.45 350.30,303.45 349.00,301.37" fill="#e84040" opacity="0.6"/>
<text x="352.30" y="303.59" font-size="3.05" fill="#606060" text-anchor="start" textLength="41.71" lengthAdjust="spacingAndGlyphs" >MESSAGE_GLOBIOM_SSP3_60</text>
<circle cx="345.10" cy="306.83" r="1.17" fill="none" stroke="#e84040" stroke-width="0.35" opacity="0.30"/>
<circle cx="349.00" cy="306.83" r="1.17" fill="none" stroke="#e84040" stroke-width="0.35" opacity="0.30"/>
<text x="352.30" y="307.88" font-size="3.05" fill="#606060" text-anchor="start" textLength="49.31" lengthAdjust="spacingAndGlyphs" >MESSAGE_GLOBIOM_SSP3_Baseline</text>
<polygon points="346.01,309.82 346.01,312.42 343.93,311.12" fill="#e84040" opacity="0.6"/>
<polygon points="349.91,309.82 349.91,312.42 347.83,311.12" fill="#e84040" opacity="0.6"/>
<text x="352.30" y="312.17" font-size="3.05" fill="#606060" text-anchor="start" textLength="37.06" lengthAdjust="spacingAndGlyphs" >WITCH_GLOBIOM_SSP3_34</text>
<polygon points="344.19,314.11 344.19,316.71 346.27,315.41" fill="#e84040" opacity="0.6"/>
<polygon points="348.09,314.11 348.09,316.71 350.17,315.41" fill="#e84040" opacity="0.6"/>
<text x="352.30" y="316.46" font-size="3.05" fill="#606060" text-anchor="start" textLength="37.06" lengthAdjust="spacingAndGlyphs" >WITCH_GLOBIOM_SSP3_45</text>
<polygon points="343.80,320.61 346.40,320.61 345.10,318.53" fill="#e84040" opacity="0.6"/>
<polygon points="347.70,320.61 350.30,320.61 349.00,318.53" fill="#e84040" opacity="0.6"/>
<text x="352.30" y="320.75" font-size="3.05" fill="#606060" text-anchor="start" textLength="37.06" lengthAdjust="spacingAndGlyphs" >WITCH_GLOBIOM_SSP3_60</text>
<circle cx="345.10" cy="323.99" r="1.17" fill="none" stroke="#e84040" stroke-width="0.35" opacity="0.30"/>
<circle cx="349.00" cy="323.99" r="1.17" fill="none" stroke="#e84040" stroke-width="0.35" opacity="0.30"/>
<text x="352.30" y="325.04" font-size="3.05" fill="#606060" text-anchor="start" textLength="44.66" lengthAdjust="spacingAndGlyphs" >WITCH_GLOBIOM_SSP3_Baseline</text>
<polygon points="343.80,327.37 346.40,327.37 345.10,329.45" fill="#f08030" opacity="0.6"/>
<polygon points="347.70,327.37 350.30,327.37 349.00,329.45" fill="#f08030" opacity="0.6"/>
<text x="352.30" y="329.33" font-size="3.05" fill="#606060" text-anchor="start" textLength="25.90" lengthAdjust="spacingAndGlyphs" >AIM_CGE_SSP4_26</text>
<polygon points="346.01,331.27 346.01,333.87 343.93,332.57" fill="#f08030" opacity="0.6"/>
<polygon points="349.91,331.27 349.91,333.87 347.83,332.57" fill="#f08030" opacity="0.6"/>
<text x="352.30" y="333.62" font-size="3.05" fill="#606060" text-anchor="start" textLength="25.90" lengthAdjust="spacingAndGlyphs" >AIM_CGE_SSP4_34</text>
<polygon points="344.19,335.56 344.19,338.16 346.27,336.86" fill="#f08030" opacity="0.6"/>
<polygon points="348.09,335.56 348.09,338.16 350.17,336.86" fill="#f08030" opacity="0.6"/>
<text x="352.30" y="337.91" font-size="3.05" fill="#606060" text-anchor="start" textLength="25.90" lengthAdjust="spacingAndGlyphs" >AIM_CGE_SSP4_45</text>
<circle cx="345.10" cy="341.15" r="1.17" fill="none" stroke="#f08030" stroke-width="0.35" opacity="0.30"/>
<circle cx="349.00" cy="341.15" r="1.17" fill="none" stroke="#f08030" stroke-width="0.35" opacity="0.30"/>
<text x="352.30" y="342.20" font-size="3.05" fill="#606060" text-anchor="start" textLength="33.50" lengthAdjust="spacingAndGlyphs" >AIM_CGE_SSP4_Baseline</text>
<polygon points="343.40,344.25 346.80,344.25 345.10,346.97" fill="#f08030" opacity="0.95"/>
<polygon points="347.30,344.25 350.70,344.25 349.00,346.97" fill="#f08030" opacity="0.95"/>
<text x="352.30" y="346.49" font-size="3.05" fill="#606060" text-anchor="start" textLength="23.26" lengthAdjust="spacingAndGlyphs" >GCAM4_SSP4_26</text>
<polygon points="346.29,348.03 346.29,351.43 343.57,349.73" fill="#f08030" opacity="0.95"/>
<polygon points="350.19,348.03 350.19,351.43 347.47,349.73" fill="#f08030" opacity="0.95"/>
<text x="352.30" y="350.78" font-size="3.05" fill="#606060" text-anchor="start" textLength="23.26" lengthAdjust="spacingAndGlyphs" >GCAM4_SSP4_34</text>
<polygon points="343.91,352.32 343.91,355.72 346.63,354.02" fill="#f08030" opacity="0.95"/>
<polygon points="347.81,352.32 347.81,355.72 350.53,354.02" fill="#f08030" opacity="0.95"/>
<text x="352.30" y="355.07" font-size="3.05" fill="#606060" text-anchor="start" textLength="23.26" lengthAdjust="spacingAndGlyphs" >GCAM4_SSP4_45</text>
<polygon points="343.40,359.50 346.80,359.50 345.10,356.78" fill="#f08030" opacity="0.95"/>
<polygon points="347.30,359.50 350.70,359.50 349.00,356.78" fill="#f08030" opacity="0.95"/>
<text x="352.30" y="359.36" font-size="3.05" fill="#606060" text-anchor="start" textLength="23.26" lengthAdjust="spacingAndGlyphs" >GCAM4_SSP4_60</text>
<circle cx="345.10" cy="362.60" r="1.53" fill="none" stroke="#f08030" stroke-width="0.35" opacity="0.47"/>
<circle cx="349.00" cy="362.60" r="1.53" fill="none" stroke="#f08030" stroke-width="0.35" opacity="0.47"/>
<text x="352.30" y="363.65" font-size="3.05" fill="#606060" text-anchor="start" textLength="30.86" lengthAdjust="spacingAndGlyphs" >GCAM4_SSP4_Baseline</text>
<polygon points="343.80,365.98 346.40,365.98 345.10,368.06" fill="#f08030" opacity="0.6"/>
<polygon points="347.70,365.98 350.30,365.98 349.00,368.06" fill="#f08030" opacity="0.6"/>
<text x="352.30" y="367.94" font-size="3.05" fill="#606060" text-anchor="start" textLength="37.06" lengthAdjust="spacingAndGlyphs" >WITCH_GLOBIOM_SSP4_26</text>
<polygon points="346.01,369.88 346.01,372.48 343.93,371.18" fill="#f08030" opacity="0.6"/>
<polygon points="349.91,369.88 349.91,372.48 347.83,371.18" fill="#f08030" opacity="0.6"/>
<text x="352.30" y="372.23" font-size="3.05" fill="#606060" text-anchor="start" textLength="37.06" lengthAdjust="spacingAndGlyphs" >WITCH_GLOBIOM_SSP4_34</text>
<polygon points="344.19,374.17 344.19,376.77 346.27,375.47" fill="#f08030" opacity="0.6"/>
<polygon points="348.09,374.17 348.09,376.77 350.17,375.47" fill="#f08030" opacity="0.6"/>
<text x="352.30" y="376.52" font-size="3.05" fill="#606060" text-anchor="start" textLength="37.06" lengthAdjust="spacingAndGlyphs" >WITCH_GLOBIOM_SSP4_45</text>
<polygon points="343.80,380.67 346.40,380.67 345.10,378.59" fill="#f08030" opacity="0.6"/>
<polygon points="347.70,380.67 350.30,380.67 349.00,378.59" fill="#f08030" opacity="0.6"/>
<text x="352.30" y="380.81" font-size="3.05" fill="#606060" text-anchor="start" textLength="37.06" lengthAdjust="spacingAndGlyphs" >WITCH_GLOBIOM_SSP4_60</text>
<circle cx="345.10" cy="384.05" r="1.17" fill="none" stroke="#f08030" stroke-width="0.35" opacity="0.30"/>
<circle cx="349.00" cy="384.05" r="1.17" fill="none" stroke="#f08030" stroke-width="0.35" opacity="0.30"/>
<text x="352.30" y="385.10" font-size="3.05" fill="#606060" text-anchor="start" textLength="44.66" lengthAdjust="spacingAndGlyphs" >WITCH_GLOBIOM_SSP4_Baseline</text>
<polygon points="343.80,387.43 346.40,387.43 345.10,389.51" fill="#c050d0" opacity="0.6"/>
<polygon points="347.70,387.43 350.30,387.43 349.00,389.51" fill="#c050d0" opacity="0.6"/>
<text x="352.30" y="389.39" font-size="3.05" fill="#606060" text-anchor="start" textLength="25.90" lengthAdjust="spacingAndGlyphs" >AIM_CGE_SSP5_26</text>
<polygon points="346.01,391.33 346.01,393.93 343.93,392.63" fill="#c050d0" opacity="0.6"/>
<polygon points="349.91,391.33 349.91,393.93 347.83,392.63" fill="#c050d0" opacity="0.6"/>
<text x="352.30" y="393.68" font-size="3.05" fill="#606060" text-anchor="start" textLength="25.90" lengthAdjust="spacingAndGlyphs" >AIM_CGE_SSP5_34</text>
<polygon points="344.19,395.62 344.19,398.22 346.27,396.92" fill="#c050d0" opacity="0.6"/>
<polygon points="348.09,395.62 348.09,398.22 350.17,396.92" fill="#c050d0" opacity="0.6"/>
<text x="352.30" y="397.97" font-size="3.05" fill="#606060" text-anchor="start" textLength="25.90" lengthAdjust="spacingAndGlyphs" >AIM_CGE_SSP5_45</text>
<polygon points="343.80,402.12 346.40,402.12 345.10,400.04" fill="#c050d0" opacity="0.6"/>
<polygon points="347.70,402.12 350.30,402.12 349.00,400.04" fill="#c050d0" opacity="0.6"/>
<text x="352.30" y="402.26" font-size="3.05" fill="#606060" text-anchor="start" textLength="25.90" lengthAdjust="spacingAndGlyphs" >AIM_CGE_SSP5_60</text>
<circle cx="345.10" cy="405.50" r="1.17" fill="none" stroke="#c050d0" stroke-width="0.35" opacity="0.30"/>
<circle cx="349.00" cy="405.50" r="1.17" fill="none" stroke="#c050d0" stroke-width="0.35" opacity="0.30"/>
<text x="352.30" y="406.55" font-size="3.05" fill="#606060" text-anchor="start" textLength="33.50" lengthAdjust="spacingAndGlyphs" >AIM_CGE_SSP5_Baseline</text>
<polygon points="343.80,408.88 346.40,408.88 345.10,410.96" fill="#c050d0" opacity="0.6"/>
<polygon points="347.70,408.88 350.30,408.88 349.00,410.96" fill="#c050d0" opacity="0.6"/>
<text x="352.30" y="410.84" font-size="3.05" fill="#606060" text-anchor="start" textLength="23.26" lengthAdjust="spacingAndGlyphs" >GCAM4_SSP5_26</text>
<polygon points="346.01,412.78 346.01,415.38 343.93,414.08" fill="#c050d0" opacity="0.6"/>
<polygon points="349.91,412.78 349.91,415.38 347.83,414.08" fill="#c050d0" opacity="0.6"/>
<text x="352.30" y="415.13" font-size="3.05" fill="#606060" text-anchor="start" textLength="23.26" lengthAdjust="spacingAndGlyphs" >GCAM4_SSP5_34</text>
<polygon points="344.19,417.07 344.19,419.67 346.27,418.37" fill="#c050d0" opacity="0.6"/>
<polygon points="348.09,417.07 348.09,419.67 350.17,418.37" fill="#c050d0" opacity="0.6"/>
<text x="352.30" y="419.42" font-size="3.05" fill="#606060" text-anchor="start" textLength="23.26" lengthAdjust="spacingAndGlyphs" >GCAM4_SSP5_45</text>
<polygon points="343.80,423.57 346.40,423.57 345.10,421.49" fill="#c050d0" opacity="0.6"/>
<polygon points="347.70,423.57 350.30,423.57 349.00,421.49" fill="#c050d0" opacity="0.6"/>
<text x="352.30" y="423.71" font-size="3.05" fill="#606060" text-anchor="start" textLength="23.26" lengthAdjust="spacingAndGlyphs" >GCAM4_SSP5_60</text>
<circle cx="345.10" cy="426.95" r="1.17" fill="none" stroke="#c050d0" stroke-width="0.35" opacity="0.30"/>
<circle cx="349.00" cy="426.95" r="1.17" fill="none" stroke="#c050d0" stroke-width="0.35" opacity="0.30"/>
<text x="352.30" y="428.00" font-size="3.05" fill="#606060" text-anchor="start" textLength="30.86" lengthAdjust="spacingAndGlyphs" >GCAM4_SSP5_Baseline</text>
<polygon points="343.40,430.05 346.80,430.05 345.10,432.77" fill="#c050d0" opacity="0.95"/>
<polygon points="347.30,430.05 350.70,430.05 349.00,432.77" fill="#c050d0" opacity="0.95"/>
<text x="352.30" y="432.29" font-size="3.05" fill="#606060" text-anchor="start" textLength="36.75" lengthAdjust="spacingAndGlyphs" >REMIND_MAGPIE_SSP5_26</text>
<polygon points="346.29,433.83 346.29,437.23 343.57,435.53" fill="#c050d0" opacity="0.95"/>
<polygon points="350.19,433.83 350.19,437.23 347.47,435.53" fill="#c050d0" opacity="0.95"/>
<text x="352.30" y="436.58" font-size="3.05" fill="#606060" text-anchor="start" textLength="36.75" lengthAdjust="spacingAndGlyphs" >REMIND_MAGPIE_SSP5_34</text>
<polygon points="343.91,438.12 343.91,441.52 346.63,439.82" fill="#c050d0" opacity="0.95"/>
<polygon points="347.81,438.12 347.81,441.52 350.53,439.82" fill="#c050d0" opacity="0.95"/>
<text x="352.30" y="440.87" font-size="3.05" fill="#606060" text-anchor="start" textLength="36.75" lengthAdjust="spacingAndGlyphs" >REMIND_MAGPIE_SSP5_45</text>
<polygon points="343.40,445.30 346.80,445.30 345.10,442.58" fill="#c050d0" opacity="0.95"/>
<polygon points="347.30,445.30 350.70,445.30 349.00,442.58" fill="#c050d0" opacity="0.95"/>
<text x="352.30" y="445.16" font-size="3.05" fill="#606060" text-anchor="start" textLength="36.75" lengthAdjust="spacingAndGlyphs" >REMIND_MAGPIE_SSP5_60</text>
<circle cx="345.10" cy="448.40" r="1.53" fill="none" stroke="#c050d0" stroke-width="0.35" opacity="0.47"/>
<circle cx="349.00" cy="448.40" r="1.53" fill="none" stroke="#c050d0" stroke-width="0.35" opacity="0.47"/>
<text x="352.30" y="449.45" font-size="3.05" fill="#606060" text-anchor="start" textLength="44.35" lengthAdjust="spacingAndGlyphs" >REMIND_MAGPIE_SSP5_Baseline</text>
<polygon points="346.01,451.39 346.01,453.99 343.93,452.69" fill="#c050d0" opacity="0.6"/>
<polygon points="349.91,451.39 349.91,453.99 347.83,452.69" fill="#c050d0" opacity="0.6"/>
<text x="352.30" y="453.74" font-size="3.05" fill="#606060" text-anchor="start" textLength="37.06" lengthAdjust="spacingAndGlyphs" >WITCH_GLOBIOM_SSP5_34</text>
<polygon points="344.19,455.68 344.19,458.28 346.27,456.98" fill="#c050d0" opacity="0.6"/>
<polygon points="348.09,455.68 348.09,458.28 350.17,456.98" fill="#c050d0" opacity="0.6"/>
<text x="352.30" y="458.03" font-size="3.05" fill="#606060" text-anchor="start" textLength="37.06" lengthAdjust="spacingAndGlyphs" >WITCH_GLOBIOM_SSP5_45</text>
<polygon points="343.80,462.18 346.40,462.18 345.10,460.10" fill="#c050d0" opacity="0.6"/>
<polygon points="347.70,462.18 350.30,462.18 349.00,460.10" fill="#c050d0" opacity="0.6"/>
<text x="352.30" y="462.32" font-size="3.05" fill="#606060" text-anchor="start" textLength="37.06" lengthAdjust="spacingAndGlyphs" >WITCH_GLOBIOM_SSP5_60</text>
<circle cx="345.10" cy="465.56" r="1.17" fill="none" stroke="#c050d0" stroke-width="0.35" opacity="0.30"/>
<circle cx="349.00" cy="465.56" r="1.17" fill="none" stroke="#c050d0" stroke-width="0.35" opacity="0.30"/>
<text x="352.30" y="466.61" font-size="3.05" fill="#606060" text-anchor="start" textLength="44.66" lengthAdjust="spacingAndGlyphs" >WITCH_GLOBIOM_SSP5_Baseline</text>
</svg></body></html>
